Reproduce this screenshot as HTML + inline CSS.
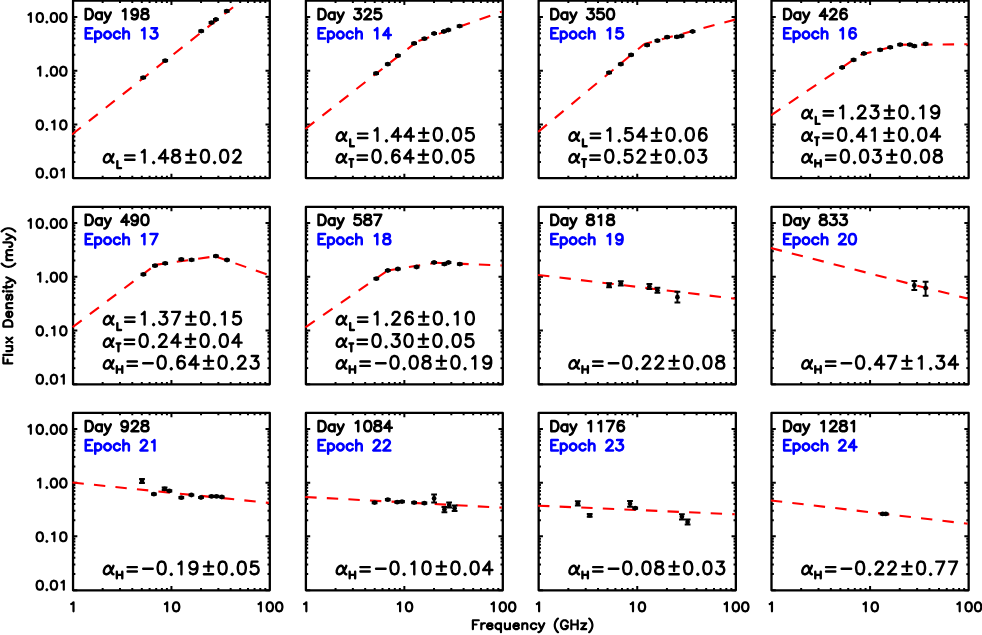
<!DOCTYPE html>
<html><head><meta charset="utf-8"><title>Flux Density vs Frequency</title>
<style>
html,body{margin:0;padding:0;background:#fff;}
body{width:982px;height:635px;overflow:hidden;font-family:"Liberation Sans",sans-serif;}
svg{display:block;}
svg text{font-family:"Liberation Sans",sans-serif;fill:#000;fill-opacity:0;stroke:none;}
</style></head><body>
<svg width="982" height="635" viewBox="0 0 982 635">
<defs><clipPath id="c0"><rect x="71.9" y="-0.55" width="196.9" height="179.8"/></clipPath><clipPath id="c1"><rect x="304.75" y="-0.55" width="197.05" height="179.8"/></clipPath><clipPath id="c2"><rect x="537.5" y="-0.55" width="197.35" height="179.8"/></clipPath><clipPath id="c3"><rect x="770.35" y="-0.55" width="197.3" height="179.8"/></clipPath><clipPath id="c4"><rect x="71.9" y="205.75" width="196.9" height="179.7"/></clipPath><clipPath id="c5"><rect x="304.75" y="205.75" width="197.05" height="179.7"/></clipPath><clipPath id="c6"><rect x="537.5" y="205.75" width="197.35" height="179.7"/></clipPath><clipPath id="c7"><rect x="770.35" y="205.75" width="197.3" height="179.7"/></clipPath><clipPath id="c8"><rect x="71.9" y="411.75" width="196.9" height="179.7"/></clipPath><clipPath id="c9"><rect x="304.75" y="411.75" width="197.05" height="179.7"/></clipPath><clipPath id="c10"><rect x="537.5" y="411.75" width="197.35" height="179.7"/></clipPath><clipPath id="c11"><rect x="770.35" y="411.75" width="197.3" height="179.7"/></clipPath></defs>
<rect width="982" height="635" fill="#fff"/>
<g fill="none" stroke-linecap="round" stroke-linejoin="round">
<path d="M73.05 17.1h4.3M269.8 17.1h-4.3M73.05 70.8h4.3M269.8 70.8h-4.3M73.05 124.5h4.3M269.8 124.5h-4.3M73.05 178.1h4.3M269.8 178.1h-4.3M73.05 54.63h2.3M269.8 54.63h-2.3M73.05 45.18h2.3M269.8 45.18h-2.3M73.05 38.47h2.3M269.8 38.47h-2.3M73.05 33.27h2.3M269.8 33.27h-2.3M73.05 29.01h2.3M269.8 29.01h-2.3M73.05 25.42h2.3M269.8 25.42h-2.3M73.05 22.3h2.3M269.8 22.3h-2.3M73.05 19.56h2.3M269.8 19.56h-2.3M73.05 108.33h2.3M269.8 108.33h-2.3M73.05 98.88h2.3M269.8 98.88h-2.3M73.05 92.17h2.3M269.8 92.17h-2.3M73.05 86.97h2.3M269.8 86.97h-2.3M73.05 82.71h2.3M269.8 82.71h-2.3M73.05 79.12h2.3M269.8 79.12h-2.3M73.05 76h2.3M269.8 76h-2.3M73.05 73.26h2.3M269.8 73.26h-2.3M73.05 162.03h2.3M269.8 162.03h-2.3M73.05 152.58h2.3M269.8 152.58h-2.3M73.05 145.87h2.3M269.8 145.87h-2.3M73.05 140.67h2.3M269.8 140.67h-2.3M73.05 136.41h2.3M269.8 136.41h-2.3M73.05 132.82h2.3M269.8 132.82h-2.3M73.05 129.7h2.3M269.8 129.7h-2.3M73.05 126.96h2.3M269.8 126.96h-2.3M171.43 0.6v4.3M171.43 178.1v-4.3M102.66 0.6v2.3M102.66 178.1v-2.3M119.99 0.6v2.3M119.99 178.1v-2.3M132.28 0.6v2.3M132.28 178.1v-2.3M141.81 0.6v2.3M141.81 178.1v-2.3M149.6 0.6v2.3M149.6 178.1v-2.3M156.19 0.6v2.3M156.19 178.1v-2.3M161.89 0.6v2.3M161.89 178.1v-2.3M166.92 0.6v2.3M166.92 178.1v-2.3M201.04 0.6v2.3M201.04 178.1v-2.3M218.36 0.6v2.3M218.36 178.1v-2.3M230.65 0.6v2.3M230.65 178.1v-2.3M240.19 0.6v2.3M240.19 178.1v-2.3M247.98 0.6v2.3M247.98 178.1v-2.3M254.56 0.6v2.3M254.56 178.1v-2.3M260.27 0.6v2.3M260.27 178.1v-2.3M265.3 0.6v2.3M265.3 178.1v-2.3" stroke="#000" stroke-width="2.0" stroke-linecap="butt"/>
<rect x="73.05" y="0.6" width="196.75" height="177.5" stroke="#000" stroke-width="2.3" stroke-linejoin="round"/>
<g clip-path="url(#c0)">
<line x1="71.9" y1="134.51" x2="233.1" y2="7.2" stroke="#f00" stroke-width="2.1" stroke-dasharray="11.4 10.2" stroke-dashoffset="0.03" stroke-linecap="butt"/>
</g>
<path d="M143.2 77V78.2M140.3 77H146.1M140.3 78.2H146.1M165.2 60.1V61.3M162.3 60.1H168.1M162.3 61.3H168.1M201.2 30.5V31.7M198.3 30.5H204.1M198.3 31.7H204.1M211.5 22V23.2M208.6 22H214.4M208.6 23.2H214.4M215.9 18.9V20.1M213 18.9H218.8M213 20.1H218.8M226.8 10.5V11.7M223.9 10.5H229.7M223.9 11.7H229.7" stroke="#000" stroke-width="2.0" stroke-linecap="butt"/>
<g fill="#000" stroke="none"><circle cx="143.2" cy="77.6" r="2.4"/><circle cx="165.2" cy="60.7" r="2.4"/><circle cx="201.2" cy="31.1" r="2.4"/><circle cx="211.5" cy="22.6" r="2.4"/><circle cx="215.9" cy="19.5" r="2.4"/><circle cx="226.8" cy="11.1" r="2.4"/></g>
<path d="M85.71 9.01L85.71 19.3M85.71 9.01L89.22 9.01L90.73 9.5L91.73 10.48L92.23 11.46L92.74 12.93L92.74 15.38L92.23 16.85L91.73 17.83L90.73 18.81L89.22 19.3L85.71 19.3M101.77 12.44L101.77 19.3M101.77 13.91L100.77 12.93L99.76 12.44L98.26 12.44L97.25 12.93L96.25 13.91L95.75 15.38L95.75 16.36L96.25 17.83L97.25 18.81L98.26 19.3L99.76 19.3L100.77 18.81L101.77 17.83M104.78 12.44L107.8 19.3M110.81 12.44L107.8 19.3L106.79 21.26L105.79 22.24L104.78 22.73L104.28 22.73M122.86 10.97L123.86 10.48L125.37 9.01L125.37 19.3M137.92 12.44L137.41 13.91L136.41 14.89L134.9 15.38L134.4 15.38L132.9 14.89L131.89 13.91L131.39 12.44L131.39 11.95L131.89 10.48L132.9 9.5L134.4 9.01L134.9 9.01L136.41 9.5L137.41 10.48L137.92 12.44L137.92 14.89L137.41 17.34L136.41 18.81L134.9 19.3L133.9 19.3L132.39 18.81L131.89 17.83M143.94 9.01L142.43 9.5L141.93 10.48L141.93 11.46L142.43 12.44L143.44 12.93L145.45 13.42L146.95 13.91L147.96 14.89L148.46 15.87L148.46 17.34L147.96 18.32L147.45 18.81L145.95 19.3L143.94 19.3L142.43 18.81L141.93 18.32L141.43 17.34L141.43 15.87L141.93 14.89L142.94 13.91L144.44 13.42L146.45 12.93L147.45 12.44L147.96 11.46L147.96 10.48L147.45 9.5L145.95 9.01L143.94 9.01" stroke="#000" stroke-width="2.5"/>
<path d="M85.71 28.16L85.71 38.45M85.71 28.16L92.23 28.16M85.71 33.06L89.72 33.06M85.71 38.45L92.23 38.45M95.25 31.59L95.25 41.88M95.25 33.06L96.25 32.08L97.25 31.59L98.76 31.59L99.76 32.08L100.77 33.06L101.27 34.53L101.27 35.51L100.77 36.98L99.76 37.96L98.76 38.45L97.25 38.45L96.25 37.96L95.25 36.98M106.79 31.59L105.79 32.08L104.78 33.06L104.28 34.53L104.28 35.51L104.78 36.98L105.79 37.96L106.79 38.45L108.3 38.45L109.3 37.96L110.31 36.98L110.81 35.51L110.81 34.53L110.31 33.06L109.3 32.08L108.3 31.59L106.79 31.59M119.84 33.06L118.84 32.08L117.84 31.59L116.33 31.59L115.33 32.08L114.32 33.06L113.82 34.53L113.82 35.51L114.32 36.98L115.33 37.96L116.33 38.45L117.84 38.45L118.84 37.96L119.84 36.98M123.36 28.16L123.36 38.45M123.36 33.55L124.86 32.08L125.87 31.59L127.37 31.59L128.38 32.08L128.88 33.55L128.88 38.45M141.93 30.12L142.94 29.63L144.44 28.16L144.44 38.45M151.47 28.16L156.99 28.16L153.98 32.08L155.49 32.08L156.49 32.57L156.99 33.06L157.49 34.53L157.49 35.51L156.99 36.98L155.99 37.96L154.48 38.45L152.98 38.45L151.47 37.96L150.97 37.47L150.47 36.49" stroke="#00f" stroke-width="2.5"/>
<path d="M107.71 154.1L106.43 154.7L105.15 155.9L104.51 157.1L103.87 158.9L103.87 160.7L104.51 161.9L105.79 162.5L107.07 162.5L108.35 161.9L110.27 160.1L111.55 158.3L112.83 155.9L113.47 154.1M107.71 154.1L108.99 154.1L109.63 154.7L110.27 155.9L111.55 160.7L112.19 161.9L112.83 162.5L113.47 162.5M125.16 155.42L134.5 155.42M125.16 159.74L134.5 159.74M141.74 152.3L142.89 151.7L144.61 149.9L144.61 162.5M153.64 162.08L153.12 162.62L153.64 163.16L154.16 162.62L153.64 162.08M165.1 149.9L158.9 158.3L168.2 158.3M165.1 149.9L165.1 162.5M174.89 149.9L173.16 150.5L172.59 151.7L172.59 152.9L173.16 154.1L174.31 154.7L176.61 155.3L178.34 155.9L179.49 157.1L180.06 158.3L180.06 160.1L179.49 161.3L178.91 161.9L177.19 162.5L174.89 162.5L173.16 161.9L172.59 161.3L172.01 160.1L172.01 158.3L172.59 157.1L173.74 155.9L175.46 155.3L177.76 154.7L178.91 154.1L179.49 152.9L179.49 151.7L178.91 150.5L177.19 149.9L174.89 149.9M190.89 149.9L190.89 159.38M186.29 154.7L195.49 154.7M186.29 162.5L195.49 162.5M204.39 149.9L202.67 150.5L201.52 152.3L200.94 155.3L200.94 157.1L201.52 160.1L202.67 161.9L204.39 162.5L205.54 162.5L207.27 161.9L208.42 160.1L208.99 157.1L208.99 155.3L208.42 152.3L207.27 150.5L205.54 149.9L204.39 149.9M214.57 162.08L214.05 162.62L214.57 163.16L215.08 162.62L214.57 162.08M223.59 149.9L221.87 150.5L220.72 152.3L220.14 155.3L220.14 157.1L220.72 160.1L221.87 161.9L223.59 162.5L224.74 162.5L226.47 161.9L227.62 160.1L228.19 157.1L228.19 155.3L227.62 152.3L226.47 150.5L224.74 149.9L223.59 149.9M233.52 152.9L233.52 152.3L234.09 151.1L234.67 150.5L235.82 149.9L238.12 149.9L239.27 150.5L239.84 151.1L240.42 152.3L240.42 153.5L239.84 154.7L238.69 156.5L232.94 162.5L240.99 162.5" stroke="#000" stroke-width="2.4"/>
<path d="M117.33 161.17L117.33 168.1M117.33 168.1L121.05 168.1" stroke="#000" stroke-width="2.4"/>
<path d="M28.55 14.76L29.46 14.33L30.82 13.05L30.82 22M39.34 13.05L37.97 13.48L37.06 14.76L36.6 16.89L36.6 18.17L37.06 20.3L37.97 21.57L39.34 22L40.24 22L41.61 21.57L42.52 20.3L42.98 18.17L42.98 16.89L42.52 14.76L41.61 13.48L40.24 13.05L39.34 13.05M46.85 21.7L46.45 22.09L46.85 22.47L47.26 22.09L46.85 21.7M53.47 13.05L52.1 13.48L51.19 14.76L50.73 16.89L50.73 18.17L51.19 20.3L52.1 21.57L53.47 22L54.38 22L55.74 21.57L56.65 20.3L57.11 18.17L57.11 16.89L56.65 14.76L55.74 13.48L54.38 13.05L53.47 13.05M62.89 13.05L61.52 13.48L60.61 14.76L60.16 16.89L60.16 18.17L60.61 20.3L61.52 21.57L62.89 22L63.8 22L65.16 21.57L66.07 20.3L66.53 18.17L66.53 16.89L66.07 14.76L65.16 13.48L63.8 13.05L62.89 13.05" stroke="#000" stroke-width="2.2"/>
<path d="M37.97 68.46L38.88 68.03L40.24 66.75L40.24 75.7M46.85 75.4L46.45 75.79L46.85 76.17L47.26 75.79L46.85 75.4M53.47 66.75L52.1 67.18L51.19 68.46L50.73 70.59L50.73 71.87L51.19 74L52.1 75.27L53.47 75.7L54.38 75.7L55.74 75.27L56.65 74L57.11 71.87L57.11 70.59L56.65 68.46L55.74 67.18L54.38 66.75L53.47 66.75M62.89 66.75L61.52 67.18L60.61 68.46L60.16 70.59L60.16 71.87L60.61 74L61.52 75.27L62.89 75.7L63.8 75.7L65.16 75.27L66.07 74L66.53 71.87L66.53 70.59L66.07 68.46L65.16 67.18L63.8 66.75L62.89 66.75" stroke="#000" stroke-width="2.2"/>
<path d="M39.34 120.45L37.97 120.88L37.06 122.16L36.6 124.29L36.6 125.57L37.06 127.7L37.97 128.97L39.34 129.4L40.24 129.4L41.61 128.97L42.52 127.7L42.98 125.57L42.98 124.29L42.52 122.16L41.61 120.88L40.24 120.45L39.34 120.45M46.85 129.1L46.45 129.49L46.85 129.87L47.26 129.49L46.85 129.1M52.1 122.16L53.01 121.73L54.38 120.45L54.38 129.4M62.89 120.45L61.52 120.88L60.61 122.16L60.16 124.29L60.16 125.57L60.61 127.7L61.52 128.97L62.89 129.4L63.8 129.4L65.16 128.97L66.07 127.7L66.53 125.57L66.53 124.29L66.07 122.16L65.16 120.88L63.8 120.45L62.89 120.45" stroke="#000" stroke-width="2.2"/>
<path d="M39.34 168.55L37.97 168.98L37.06 170.26L36.6 172.39L36.6 173.67L37.06 175.8L37.97 177.07L39.34 177.5L40.24 177.5L41.61 177.07L42.52 175.8L42.98 173.67L42.98 172.39L42.52 170.26L41.61 168.98L40.24 168.55L39.34 168.55M46.85 177.2L46.45 177.59L46.85 177.97L47.26 177.59L46.85 177.2M53.47 168.55L52.1 168.98L51.19 170.26L50.73 172.39L50.73 173.67L51.19 175.8L52.1 177.07L53.47 177.5L54.38 177.5L55.74 177.07L56.65 175.8L57.11 173.67L57.11 172.39L56.65 170.26L55.74 168.98L54.38 168.55L53.47 168.55M61.52 170.26L62.43 169.83L63.8 168.55L63.8 177.5" stroke="#000" stroke-width="2.2"/>
<path d="M305.9 17.1h4.3M502.8 17.1h-4.3M305.9 70.8h4.3M502.8 70.8h-4.3M305.9 124.5h4.3M502.8 124.5h-4.3M305.9 178.1h4.3M502.8 178.1h-4.3M305.9 54.63h2.3M502.8 54.63h-2.3M305.9 45.18h2.3M502.8 45.18h-2.3M305.9 38.47h2.3M502.8 38.47h-2.3M305.9 33.27h2.3M502.8 33.27h-2.3M305.9 29.01h2.3M502.8 29.01h-2.3M305.9 25.42h2.3M502.8 25.42h-2.3M305.9 22.3h2.3M502.8 22.3h-2.3M305.9 19.56h2.3M502.8 19.56h-2.3M305.9 108.33h2.3M502.8 108.33h-2.3M305.9 98.88h2.3M502.8 98.88h-2.3M305.9 92.17h2.3M502.8 92.17h-2.3M305.9 86.97h2.3M502.8 86.97h-2.3M305.9 82.71h2.3M502.8 82.71h-2.3M305.9 79.12h2.3M502.8 79.12h-2.3M305.9 76h2.3M502.8 76h-2.3M305.9 73.26h2.3M502.8 73.26h-2.3M305.9 162.03h2.3M502.8 162.03h-2.3M305.9 152.58h2.3M502.8 152.58h-2.3M305.9 145.87h2.3M502.8 145.87h-2.3M305.9 140.67h2.3M502.8 140.67h-2.3M305.9 136.41h2.3M502.8 136.41h-2.3M305.9 132.82h2.3M502.8 132.82h-2.3M305.9 129.7h2.3M502.8 129.7h-2.3M305.9 126.96h2.3M502.8 126.96h-2.3M404.35 0.6v4.3M404.35 178.1v-4.3M335.54 0.6v2.3M335.54 178.1v-2.3M352.87 0.6v2.3M352.87 178.1v-2.3M365.17 0.6v2.3M365.17 178.1v-2.3M374.71 0.6v2.3M374.71 178.1v-2.3M382.51 0.6v2.3M382.51 178.1v-2.3M389.1 0.6v2.3M389.1 178.1v-2.3M394.81 0.6v2.3M394.81 178.1v-2.3M399.85 0.6v2.3M399.85 178.1v-2.3M433.99 0.6v2.3M433.99 178.1v-2.3M451.32 0.6v2.3M451.32 178.1v-2.3M463.62 0.6v2.3M463.62 178.1v-2.3M473.16 0.6v2.3M473.16 178.1v-2.3M480.96 0.6v2.3M480.96 178.1v-2.3M487.55 0.6v2.3M487.55 178.1v-2.3M493.26 0.6v2.3M493.26 178.1v-2.3M498.3 0.6v2.3M498.3 178.1v-2.3" stroke="#000" stroke-width="2.0" stroke-linecap="butt"/>
<rect x="305.9" y="0.6" width="196.9" height="177.5" stroke="#000" stroke-width="2.3" stroke-linejoin="round"/>
<g clip-path="url(#c1)">
<line x1="304.7" y1="129.5" x2="417.2" y2="41.5" stroke="#f00" stroke-width="2.1" stroke-dasharray="11.4 10.2" stroke-dashoffset="-0.86" stroke-linecap="butt"/>
<line x1="417.2" y1="41.5" x2="502.55" y2="11.4" stroke="#f00" stroke-width="2.1" stroke-dasharray="11.4 10.2" stroke-dashoffset="-1.3" stroke-linecap="butt"/>
</g>
<path d="M376.1 72.8V74M373.2 72.8H379M373.2 74H379M387.8 63.6V64.8M384.9 63.6H390.7M384.9 64.8H390.7M397.9 55.1V56.3M395 55.1H400.8M395 56.3H400.8M414.1 42.8V44M411.2 42.8H417M411.2 44H417M424.4 38.1V39.3M421.5 38.1H427.3M421.5 39.3H427.3M434.1 32.9V34.1M431.2 32.9H437M431.2 34.1H437M443.9 30.9V32.1M441 30.9H446.8M441 32.1H446.8M448.3 29.4V30.6M445.4 29.4H451.2M445.4 30.6H451.2M459.6 25.5V26.7M456.7 25.5H462.5M456.7 26.7H462.5" stroke="#000" stroke-width="2.0" stroke-linecap="butt"/>
<g fill="#000" stroke="none"><circle cx="376.1" cy="73.4" r="2.4"/><circle cx="387.8" cy="64.2" r="2.4"/><circle cx="397.9" cy="55.7" r="2.4"/><circle cx="414.1" cy="43.4" r="2.4"/><circle cx="424.4" cy="38.7" r="2.4"/><circle cx="434.1" cy="33.5" r="2.4"/><circle cx="443.9" cy="31.5" r="2.4"/><circle cx="448.3" cy="30" r="2.4"/><circle cx="459.6" cy="26.1" r="2.4"/></g>
<path d="M318.56 9.01L318.56 19.3M318.56 9.01L322.07 9.01L323.58 9.5L324.58 10.48L325.08 11.46L325.59 12.93L325.59 15.38L325.08 16.85L324.58 17.83L323.58 18.81L322.07 19.3L318.56 19.3M334.62 12.44L334.62 19.3M334.62 13.91L333.62 12.93L332.61 12.44L331.11 12.44L330.1 12.93L329.1 13.91L328.6 15.38L328.6 16.36L329.1 17.83L330.1 18.81L331.11 19.3L332.61 19.3L333.62 18.81L334.62 17.83M337.63 12.44L340.65 19.3M343.66 12.44L340.65 19.3L339.64 21.26L338.64 22.24L337.63 22.73L337.13 22.73M355.2 9.01L360.73 9.01L357.71 12.93L359.22 12.93L360.22 13.42L360.73 13.91L361.23 15.38L361.23 16.36L360.73 17.83L359.72 18.81L358.22 19.3L356.71 19.3L355.2 18.81L354.7 18.32L354.2 17.34M364.74 11.46L364.74 10.97L365.24 9.99L365.75 9.5L366.75 9.01L368.76 9.01L369.76 9.5L370.26 9.99L370.77 10.97L370.77 11.95L370.26 12.93L369.26 14.4L364.24 19.3L371.27 19.3M380.3 9.01L375.28 9.01L374.78 13.42L375.28 12.93L376.79 12.44L378.3 12.44L379.8 12.93L380.81 13.91L381.31 15.38L381.31 16.36L380.81 17.83L379.8 18.81L378.3 19.3L376.79 19.3L375.28 18.81L374.78 18.32L374.28 17.34" stroke="#000" stroke-width="2.5"/>
<path d="M318.56 28.16L318.56 38.45M318.56 28.16L325.08 28.16M318.56 33.06L322.57 33.06M318.56 38.45L325.08 38.45M328.1 31.59L328.1 41.88M328.1 33.06L329.1 32.08L330.1 31.59L331.61 31.59L332.61 32.08L333.62 33.06L334.12 34.53L334.12 35.51L333.62 36.98L332.61 37.96L331.61 38.45L330.1 38.45L329.1 37.96L328.1 36.98M339.64 31.59L338.64 32.08L337.63 33.06L337.13 34.53L337.13 35.51L337.63 36.98L338.64 37.96L339.64 38.45L341.15 38.45L342.15 37.96L343.16 36.98L343.66 35.51L343.66 34.53L343.16 33.06L342.15 32.08L341.15 31.59L339.64 31.59M352.69 33.06L351.69 32.08L350.69 31.59L349.18 31.59L348.18 32.08L347.17 33.06L346.67 34.53L346.67 35.51L347.17 36.98L348.18 37.96L349.18 38.45L350.69 38.45L351.69 37.96L352.69 36.98M356.21 28.16L356.21 38.45M356.21 33.55L357.71 32.08L358.72 31.59L360.22 31.59L361.23 32.08L361.73 33.55L361.73 38.45M374.78 30.12L375.79 29.63L377.29 28.16L377.29 38.45M388.34 28.16L383.32 35.02L390.85 35.02M388.34 28.16L388.34 38.45" stroke="#00f" stroke-width="2.5"/>
<path d="M340.56 132.3L339.28 132.9L338 134.1L337.36 135.3L336.72 137.1L336.72 138.9L337.36 140.1L338.64 140.7L339.92 140.7L341.2 140.1L343.12 138.3L344.4 136.5L345.68 134.1L346.32 132.3M340.56 132.3L341.84 132.3L342.48 132.9L343.12 134.1L344.4 138.9L345.04 140.1L345.68 140.7L346.32 140.7M358.01 133.62L367.35 133.62M358.01 137.94L367.35 137.94M374.59 130.5L375.74 129.9L377.46 128.1L377.46 140.7M386.49 140.28L385.97 140.82L386.49 141.36L387.01 140.82L386.49 140.28M397.95 128.1L391.75 136.5L401.05 136.5M397.95 128.1L397.95 140.7M410.75 128.1L404.55 136.5L413.85 136.5M410.75 128.1L410.75 140.7M423.74 128.1L423.74 137.58M419.14 132.9L428.34 132.9M419.14 140.7L428.34 140.7M437.24 128.1L435.52 128.7L434.37 130.5L433.79 133.5L433.79 135.3L434.37 138.3L435.52 140.1L437.24 140.7L438.39 140.7L440.12 140.1L441.27 138.3L441.84 135.3L441.84 133.5L441.27 130.5L440.12 128.7L438.39 128.1L437.24 128.1M447.42 140.28L446.9 140.82L447.42 141.36L447.93 140.82L447.42 140.28M456.44 128.1L454.72 128.7L453.57 130.5L452.99 133.5L452.99 135.3L453.57 138.3L454.72 140.1L456.44 140.7L457.59 140.7L459.32 140.1L460.47 138.3L461.04 135.3L461.04 133.5L460.47 130.5L459.32 128.7L457.59 128.1L456.44 128.1M472.69 128.1L466.94 128.1L466.37 133.5L466.94 132.9L468.67 132.3L470.39 132.3L472.12 132.9L473.27 134.1L473.84 135.9L473.84 137.1L473.27 138.9L472.12 140.1L470.39 140.7L468.67 140.7L466.94 140.1L466.37 139.5L465.79 138.3" stroke="#000" stroke-width="2.4"/>
<path d="M350.18 139.37L350.18 146.3M350.18 146.3L353.9 146.3" stroke="#000" stroke-width="2.4"/>
<path d="M340.56 154.1L339.28 154.7L338 155.9L337.36 157.1L336.72 158.9L336.72 160.7L337.36 161.9L338.64 162.5L339.92 162.5L341.2 161.9L343.12 160.1L344.4 158.3L345.68 155.9L346.32 154.1M340.56 154.1L341.84 154.1L342.48 154.7L343.12 155.9L344.4 160.7L345.04 161.9L345.68 162.5L346.32 162.5M357.65 155.42L366.99 155.42M357.65 159.74L366.99 159.74M375.95 149.9L374.23 150.5L373.08 152.3L372.5 155.3L372.5 157.1L373.08 160.1L374.23 161.9L375.95 162.5L377.1 162.5L378.83 161.9L379.98 160.1L380.55 157.1L380.55 155.3L379.98 152.3L378.83 150.5L377.1 149.9L375.95 149.9M386.13 162.08L385.61 162.62L386.13 163.16L386.65 162.62L386.13 162.08M399.18 151.7L398.6 150.5L396.88 149.9L395.73 149.9L394 150.5L392.85 152.3L392.28 155.3L392.28 158.3L392.85 160.7L394 161.9L395.73 162.5L396.3 162.5L398.03 161.9L399.18 160.7L399.75 158.9L399.75 158.3L399.18 156.5L398.03 155.3L396.3 154.7L395.73 154.7L394 155.3L392.85 156.5L392.28 158.3M410.39 149.9L404.19 158.3L413.49 158.3M410.39 149.9L410.39 162.5M423.38 149.9L423.38 159.38M418.78 154.7L427.98 154.7M418.78 162.5L427.98 162.5M436.88 149.9L435.16 150.5L434.01 152.3L433.43 155.3L433.43 157.1L434.01 160.1L435.16 161.9L436.88 162.5L438.03 162.5L439.76 161.9L440.91 160.1L441.48 157.1L441.48 155.3L440.91 152.3L439.76 150.5L438.03 149.9L436.88 149.9M447.06 162.08L446.54 162.62L447.06 163.16L447.57 162.62L447.06 162.08M456.08 149.9L454.36 150.5L453.21 152.3L452.63 155.3L452.63 157.1L453.21 160.1L454.36 161.9L456.08 162.5L457.23 162.5L458.96 161.9L460.11 160.1L460.68 157.1L460.68 155.3L460.11 152.3L458.96 150.5L457.23 149.9L456.08 149.9M472.33 149.9L466.58 149.9L466.01 155.3L466.58 154.7L468.31 154.1L470.03 154.1L471.76 154.7L472.91 155.9L473.48 157.7L473.48 158.9L472.91 160.7L471.76 161.9L470.03 162.5L468.31 162.5L466.58 161.9L466.01 161.3L465.43 160.1" stroke="#000" stroke-width="2.4"/>
<path d="M351.32 159.17L351.32 166.9M349.5 159.17L353.14 159.17" stroke="#000" stroke-width="2.4"/>
<path d="M538.65 17.1h4.3M735.85 17.1h-4.3M538.65 70.8h4.3M735.85 70.8h-4.3M538.65 124.5h4.3M735.85 124.5h-4.3M538.65 178.1h4.3M735.85 178.1h-4.3M538.65 54.63h2.3M735.85 54.63h-2.3M538.65 45.18h2.3M735.85 45.18h-2.3M538.65 38.47h2.3M735.85 38.47h-2.3M538.65 33.27h2.3M735.85 33.27h-2.3M538.65 29.01h2.3M735.85 29.01h-2.3M538.65 25.42h2.3M735.85 25.42h-2.3M538.65 22.3h2.3M735.85 22.3h-2.3M538.65 19.56h2.3M735.85 19.56h-2.3M538.65 108.33h2.3M735.85 108.33h-2.3M538.65 98.88h2.3M735.85 98.88h-2.3M538.65 92.17h2.3M735.85 92.17h-2.3M538.65 86.97h2.3M735.85 86.97h-2.3M538.65 82.71h2.3M735.85 82.71h-2.3M538.65 79.12h2.3M735.85 79.12h-2.3M538.65 76h2.3M735.85 76h-2.3M538.65 73.26h2.3M735.85 73.26h-2.3M538.65 162.03h2.3M735.85 162.03h-2.3M538.65 152.58h2.3M735.85 152.58h-2.3M538.65 145.87h2.3M735.85 145.87h-2.3M538.65 140.67h2.3M735.85 140.67h-2.3M538.65 136.41h2.3M735.85 136.41h-2.3M538.65 132.82h2.3M735.85 132.82h-2.3M538.65 129.7h2.3M735.85 129.7h-2.3M538.65 126.96h2.3M735.85 126.96h-2.3M637.25 0.6v4.3M637.25 178.1v-4.3M568.33 0.6v2.3M568.33 178.1v-2.3M585.69 0.6v2.3M585.69 178.1v-2.3M598.01 0.6v2.3M598.01 178.1v-2.3M607.57 0.6v2.3M607.57 178.1v-2.3M615.38 0.6v2.3M615.38 178.1v-2.3M621.98 0.6v2.3M621.98 178.1v-2.3M627.69 0.6v2.3M627.69 178.1v-2.3M632.74 0.6v2.3M632.74 178.1v-2.3M666.93 0.6v2.3M666.93 178.1v-2.3M684.29 0.6v2.3M684.29 178.1v-2.3M696.61 0.6v2.3M696.61 178.1v-2.3M706.17 0.6v2.3M706.17 178.1v-2.3M713.98 0.6v2.3M713.98 178.1v-2.3M720.58 0.6v2.3M720.58 178.1v-2.3M726.29 0.6v2.3M726.29 178.1v-2.3M731.34 0.6v2.3M731.34 178.1v-2.3" stroke="#000" stroke-width="2.0" stroke-linecap="butt"/>
<rect x="538.65" y="0.6" width="197.2" height="177.5" stroke="#000" stroke-width="2.3" stroke-linejoin="round"/>
<g clip-path="url(#c2)">
<line x1="537.5" y1="132.45" x2="644.3" y2="44" stroke="#f00" stroke-width="2.1" stroke-dasharray="11.4 10.2" stroke-dashoffset="-0.89" stroke-linecap="butt"/>
<line x1="644.3" y1="44" x2="735.35" y2="19.5" stroke="#f00" stroke-width="2.1" stroke-dasharray="11.4 10.2" stroke-dashoffset="3.5" stroke-linecap="butt"/>
</g>
<path d="M609.1 72V73.2M606.2 72H612M606.2 73.2H612M620.8 63.6V64.8M617.9 63.6H623.7M617.9 64.8H623.7M631.1 54.3V55.5M628.2 54.3H634M628.2 55.5H634M647.1 44.5V45.7M644.2 44.5H650M644.2 45.7H650M657.4 40.1V41.3M654.5 40.1H660.3M654.5 41.3H660.3M667.1 36.6V37.8M664.2 36.6H670M664.2 37.8H670M676.9 36.2V37.4M674 36.2H679.8M674 37.4H679.8M681.5 35.4V36.6M678.6 35.4H684.4M678.6 36.6H684.4M692.6 30.9V32.1M689.7 30.9H695.5M689.7 32.1H695.5" stroke="#000" stroke-width="2.0" stroke-linecap="butt"/>
<g fill="#000" stroke="none"><circle cx="609.1" cy="72.6" r="2.4"/><circle cx="620.8" cy="64.2" r="2.4"/><circle cx="631.1" cy="54.9" r="2.4"/><circle cx="647.1" cy="45.1" r="2.4"/><circle cx="657.4" cy="40.7" r="2.4"/><circle cx="667.1" cy="37.2" r="2.4"/><circle cx="676.9" cy="36.8" r="2.4"/><circle cx="681.5" cy="36" r="2.4"/><circle cx="692.6" cy="31.5" r="2.4"/></g>
<path d="M551.31 9.01L551.31 19.3M551.31 9.01L554.82 9.01L556.33 9.5L557.33 10.48L557.83 11.46L558.34 12.93L558.34 15.38L557.83 16.85L557.33 17.83L556.33 18.81L554.82 19.3L551.31 19.3M567.37 12.44L567.37 19.3M567.37 13.91L566.37 12.93L565.36 12.44L563.86 12.44L562.85 12.93L561.85 13.91L561.35 15.38L561.35 16.36L561.85 17.83L562.85 18.81L563.86 19.3L565.36 19.3L566.37 18.81L567.37 17.83M570.38 12.44L573.4 19.3M576.41 12.44L573.4 19.3L572.39 21.26L571.39 22.24L570.38 22.73L569.88 22.73M587.95 9.01L593.48 9.01L590.46 12.93L591.97 12.93L592.97 13.42L593.48 13.91L593.98 15.38L593.98 16.36L593.48 17.83L592.47 18.81L590.97 19.3L589.46 19.3L587.95 18.81L587.45 18.32L586.95 17.34M603.01 9.01L597.99 9.01L597.49 13.42L597.99 12.93L599.5 12.44L601.01 12.44L602.51 12.93L603.52 13.91L604.02 15.38L604.02 16.36L603.52 17.83L602.51 18.81L601.01 19.3L599.5 19.3L597.99 18.81L597.49 18.32L596.99 17.34M610.04 9.01L608.54 9.5L607.53 10.97L607.03 13.42L607.03 14.89L607.53 17.34L608.54 18.81L610.04 19.3L611.05 19.3L612.55 18.81L613.56 17.34L614.06 14.89L614.06 13.42L613.56 10.97L612.55 9.5L611.05 9.01L610.04 9.01" stroke="#000" stroke-width="2.5"/>
<path d="M551.31 28.16L551.31 38.45M551.31 28.16L557.83 28.16M551.31 33.06L555.32 33.06M551.31 38.45L557.83 38.45M560.85 31.59L560.85 41.88M560.85 33.06L561.85 32.08L562.85 31.59L564.36 31.59L565.36 32.08L566.37 33.06L566.87 34.53L566.87 35.51L566.37 36.98L565.36 37.96L564.36 38.45L562.85 38.45L561.85 37.96L560.85 36.98M572.39 31.59L571.39 32.08L570.38 33.06L569.88 34.53L569.88 35.51L570.38 36.98L571.39 37.96L572.39 38.45L573.9 38.45L574.9 37.96L575.91 36.98L576.41 35.51L576.41 34.53L575.91 33.06L574.9 32.08L573.9 31.59L572.39 31.59M585.44 33.06L584.44 32.08L583.44 31.59L581.93 31.59L580.93 32.08L579.92 33.06L579.42 34.53L579.42 35.51L579.92 36.98L580.93 37.96L581.93 38.45L583.44 38.45L584.44 37.96L585.44 36.98M588.96 28.16L588.96 38.45M588.96 33.55L590.46 32.08L591.47 31.59L592.97 31.59L593.98 32.08L594.48 33.55L594.48 38.45M607.53 30.12L608.54 29.63L610.04 28.16L610.04 38.45M622.09 28.16L617.07 28.16L616.57 32.57L617.07 32.08L618.58 31.59L620.08 31.59L621.59 32.08L622.59 33.06L623.09 34.53L623.09 35.51L622.59 36.98L621.59 37.96L620.08 38.45L618.58 38.45L617.07 37.96L616.57 37.47L616.07 36.49" stroke="#00f" stroke-width="2.5"/>
<path d="M573.31 132.3L572.03 132.9L570.75 134.1L570.11 135.3L569.47 137.1L569.47 138.9L570.11 140.1L571.39 140.7L572.67 140.7L573.95 140.1L575.87 138.3L577.15 136.5L578.43 134.1L579.07 132.3M573.31 132.3L574.59 132.3L575.23 132.9L575.87 134.1L577.15 138.9L577.79 140.1L578.43 140.7L579.07 140.7M590.76 133.62L600.1 133.62M590.76 137.94L600.1 137.94M607.34 130.5L608.49 129.9L610.21 128.1L610.21 140.7M619.24 140.28L618.72 140.82L619.24 141.36L619.76 140.82L619.24 140.28M631.71 128.1L625.96 128.1L625.39 133.5L625.96 132.9L627.69 132.3L629.41 132.3L631.14 132.9L632.29 134.1L632.86 135.9L632.86 137.1L632.29 138.9L631.14 140.1L629.41 140.7L627.69 140.7L625.96 140.1L625.39 139.5L624.81 138.3M643.5 128.1L637.3 136.5L646.6 136.5M643.5 128.1L643.5 140.7M656.49 128.1L656.49 137.58M651.89 132.9L661.09 132.9M651.89 140.7L661.09 140.7M669.99 128.1L668.27 128.7L667.12 130.5L666.54 133.5L666.54 135.3L667.12 138.3L668.27 140.1L669.99 140.7L671.14 140.7L672.87 140.1L674.02 138.3L674.59 135.3L674.59 133.5L674.02 130.5L672.87 128.7L671.14 128.1L669.99 128.1M680.17 140.28L679.65 140.82L680.17 141.36L680.68 140.82L680.17 140.28M689.19 128.1L687.47 128.7L686.32 130.5L685.74 133.5L685.74 135.3L686.32 138.3L687.47 140.1L689.19 140.7L690.34 140.7L692.07 140.1L693.22 138.3L693.79 135.3L693.79 133.5L693.22 130.5L692.07 128.7L690.34 128.1L689.19 128.1M706.02 129.9L705.44 128.7L703.72 128.1L702.57 128.1L700.84 128.7L699.69 130.5L699.12 133.5L699.12 136.5L699.69 138.9L700.84 140.1L702.57 140.7L703.14 140.7L704.87 140.1L706.02 138.9L706.59 137.1L706.59 136.5L706.02 134.7L704.87 133.5L703.14 132.9L702.57 132.9L700.84 133.5L699.69 134.7L699.12 136.5" stroke="#000" stroke-width="2.4"/>
<path d="M582.93 139.37L582.93 146.3M582.93 146.3L586.65 146.3" stroke="#000" stroke-width="2.4"/>
<path d="M573.31 154.1L572.03 154.7L570.75 155.9L570.11 157.1L569.47 158.9L569.47 160.7L570.11 161.9L571.39 162.5L572.67 162.5L573.95 161.9L575.87 160.1L577.15 158.3L578.43 155.9L579.07 154.1M573.31 154.1L574.59 154.1L575.23 154.7L575.87 155.9L577.15 160.7L577.79 161.9L578.43 162.5L579.07 162.5M590.4 155.42L599.74 155.42M590.4 159.74L599.74 159.74M608.7 149.9L606.98 150.5L605.83 152.3L605.25 155.3L605.25 157.1L605.83 160.1L606.98 161.9L608.7 162.5L609.85 162.5L611.58 161.9L612.73 160.1L613.3 157.1L613.3 155.3L612.73 152.3L611.58 150.5L609.85 149.9L608.7 149.9M618.88 162.08L618.36 162.62L618.88 163.16L619.4 162.62L618.88 162.08M631.35 149.9L625.6 149.9L625.03 155.3L625.6 154.7L627.33 154.1L629.05 154.1L630.78 154.7L631.93 155.9L632.5 157.7L632.5 158.9L631.93 160.7L630.78 161.9L629.05 162.5L627.33 162.5L625.6 161.9L625.03 161.3L624.45 160.1M637.83 152.9L637.83 152.3L638.4 151.1L638.98 150.5L640.13 149.9L642.43 149.9L643.58 150.5L644.15 151.1L644.73 152.3L644.73 153.5L644.15 154.7L643 156.5L637.25 162.5L645.3 162.5M656.13 149.9L656.13 159.38M651.53 154.7L660.73 154.7M651.53 162.5L660.73 162.5M669.63 149.9L667.91 150.5L666.76 152.3L666.18 155.3L666.18 157.1L666.76 160.1L667.91 161.9L669.63 162.5L670.78 162.5L672.51 161.9L673.66 160.1L674.23 157.1L674.23 155.3L673.66 152.3L672.51 150.5L670.78 149.9L669.63 149.9M679.81 162.08L679.29 162.62L679.81 163.16L680.32 162.62L679.81 162.08M688.83 149.9L687.11 150.5L685.96 152.3L685.38 155.3L685.38 157.1L685.96 160.1L687.11 161.9L688.83 162.5L689.98 162.5L691.71 161.9L692.86 160.1L693.43 157.1L693.43 155.3L692.86 152.3L691.71 150.5L689.98 149.9L688.83 149.9M699.33 149.9L705.66 149.9L702.21 154.7L703.93 154.7L705.08 155.3L705.66 155.9L706.23 157.7L706.23 158.9L705.66 160.7L704.51 161.9L702.78 162.5L701.06 162.5L699.33 161.9L698.76 161.3L698.18 160.1" stroke="#000" stroke-width="2.4"/>
<path d="M584.07 159.17L584.07 166.9M582.25 159.17L585.89 159.17" stroke="#000" stroke-width="2.4"/>
<path d="M771.5 17.1h4.3M968.65 17.1h-4.3M771.5 70.8h4.3M968.65 70.8h-4.3M771.5 124.5h4.3M968.65 124.5h-4.3M771.5 178.1h4.3M968.65 178.1h-4.3M771.5 54.63h2.3M968.65 54.63h-2.3M771.5 45.18h2.3M968.65 45.18h-2.3M771.5 38.47h2.3M968.65 38.47h-2.3M771.5 33.27h2.3M968.65 33.27h-2.3M771.5 29.01h2.3M968.65 29.01h-2.3M771.5 25.42h2.3M968.65 25.42h-2.3M771.5 22.3h2.3M968.65 22.3h-2.3M771.5 19.56h2.3M968.65 19.56h-2.3M771.5 108.33h2.3M968.65 108.33h-2.3M771.5 98.88h2.3M968.65 98.88h-2.3M771.5 92.17h2.3M968.65 92.17h-2.3M771.5 86.97h2.3M968.65 86.97h-2.3M771.5 82.71h2.3M968.65 82.71h-2.3M771.5 79.12h2.3M968.65 79.12h-2.3M771.5 76h2.3M968.65 76h-2.3M771.5 73.26h2.3M968.65 73.26h-2.3M771.5 162.03h2.3M968.65 162.03h-2.3M771.5 152.58h2.3M968.65 152.58h-2.3M771.5 145.87h2.3M968.65 145.87h-2.3M771.5 140.67h2.3M968.65 140.67h-2.3M771.5 136.41h2.3M968.65 136.41h-2.3M771.5 132.82h2.3M968.65 132.82h-2.3M771.5 129.7h2.3M968.65 129.7h-2.3M771.5 126.96h2.3M968.65 126.96h-2.3M870.08 0.6v4.3M870.08 178.1v-4.3M801.17 0.6v2.3M801.17 178.1v-2.3M818.53 0.6v2.3M818.53 178.1v-2.3M830.85 0.6v2.3M830.85 178.1v-2.3M840.4 0.6v2.3M840.4 178.1v-2.3M848.21 0.6v2.3M848.21 178.1v-2.3M854.81 0.6v2.3M854.81 178.1v-2.3M860.52 0.6v2.3M860.52 178.1v-2.3M865.56 0.6v2.3M865.56 178.1v-2.3M899.75 0.6v2.3M899.75 178.1v-2.3M917.11 0.6v2.3M917.11 178.1v-2.3M929.42 0.6v2.3M929.42 178.1v-2.3M938.98 0.6v2.3M938.98 178.1v-2.3M946.78 0.6v2.3M946.78 178.1v-2.3M953.38 0.6v2.3M953.38 178.1v-2.3M959.1 0.6v2.3M959.1 178.1v-2.3M964.14 0.6v2.3M964.14 178.1v-2.3" stroke="#000" stroke-width="2.0" stroke-linecap="butt"/>
<rect x="771.5" y="0.6" width="197.15" height="177.5" stroke="#000" stroke-width="2.3" stroke-linejoin="round"/>
<g clip-path="url(#c3)">
<line x1="770.3" y1="115.77" x2="861.5" y2="54.4" stroke="#f00" stroke-width="2.1" stroke-dasharray="11.4 10.2" stroke-dashoffset="-0.79" stroke-linecap="butt"/>
<line x1="861.5" y1="54.4" x2="900.5" y2="44.7" stroke="#f00" stroke-width="2.1" stroke-dasharray="11.4 10.2" stroke-dashoffset="1.1" stroke-linecap="butt"/>
<line x1="900.5" y1="44.7" x2="968.15" y2="44.3" stroke="#f00" stroke-width="2.1" stroke-dasharray="11.4 10.2" stroke-dashoffset="1" stroke-linecap="butt"/>
</g>
<path d="M842.1 66.9V68.1M839.2 66.9H845M839.2 68.1H845M853.6 59.3V60.5M850.7 59.3H856.5M850.7 60.5H856.5M863.9 52.9V54.1M861 52.9H866.8M861 54.1H866.8M880.1 49.2V50.4M877.2 49.2H883M877.2 50.4H883M890.2 46.7V47.9M887.3 46.7H893.1M887.3 47.9H893.1M900.1 44V45.2M897.2 44H903M897.2 45.2H903M909.9 44V45.2M907 44H912.8M907 45.2H912.8M914.3 45.5V46.7M911.4 45.5H917.2M911.4 46.7H917.2M925.6 43.2V44.4M922.7 43.2H928.5M922.7 44.4H928.5" stroke="#000" stroke-width="2.0" stroke-linecap="butt"/>
<g fill="#000" stroke="none"><circle cx="842.1" cy="67.5" r="2.4"/><circle cx="853.6" cy="59.9" r="2.4"/><circle cx="863.9" cy="53.5" r="2.4"/><circle cx="880.1" cy="49.8" r="2.4"/><circle cx="890.2" cy="47.3" r="2.4"/><circle cx="900.1" cy="44.6" r="2.4"/><circle cx="909.9" cy="44.6" r="2.4"/><circle cx="914.3" cy="46.1" r="2.4"/><circle cx="925.6" cy="43.8" r="2.4"/></g>
<path d="M784.16 9.01L784.16 19.3M784.16 9.01L787.67 9.01L789.18 9.5L790.18 10.48L790.68 11.46L791.19 12.93L791.19 15.38L790.68 16.85L790.18 17.83L789.18 18.81L787.67 19.3L784.16 19.3M800.22 12.44L800.22 19.3M800.22 13.91L799.22 12.93L798.21 12.44L796.71 12.44L795.7 12.93L794.7 13.91L794.2 15.38L794.2 16.36L794.7 17.83L795.7 18.81L796.71 19.3L798.21 19.3L799.22 18.81L800.22 17.83M803.23 12.44L806.25 19.3M809.26 12.44L806.25 19.3L805.24 21.26L804.24 22.24L803.23 22.73L802.73 22.73M824.82 9.01L819.8 15.87L827.33 15.87M824.82 9.01L824.82 19.3M830.34 11.46L830.34 10.97L830.84 9.99L831.35 9.5L832.35 9.01L834.36 9.01L835.36 9.5L835.86 9.99L836.37 10.97L836.37 11.95L835.86 12.93L834.86 14.4L829.84 19.3L836.87 19.3M846.41 10.48L845.9 9.5L844.4 9.01L843.39 9.01L841.89 9.5L840.88 10.97L840.38 13.42L840.38 15.87L840.88 17.83L841.89 18.81L843.39 19.3L843.9 19.3L845.4 18.81L846.41 17.83L846.91 16.36L846.91 15.87L846.41 14.4L845.4 13.42L843.9 12.93L843.39 12.93L841.89 13.42L840.88 14.4L840.38 15.87" stroke="#000" stroke-width="2.5"/>
<path d="M784.16 28.16L784.16 38.45M784.16 28.16L790.68 28.16M784.16 33.06L788.17 33.06M784.16 38.45L790.68 38.45M793.7 31.59L793.7 41.88M793.7 33.06L794.7 32.08L795.7 31.59L797.21 31.59L798.21 32.08L799.22 33.06L799.72 34.53L799.72 35.51L799.22 36.98L798.21 37.96L797.21 38.45L795.7 38.45L794.7 37.96L793.7 36.98M805.24 31.59L804.24 32.08L803.23 33.06L802.73 34.53L802.73 35.51L803.23 36.98L804.24 37.96L805.24 38.45L806.75 38.45L807.75 37.96L808.76 36.98L809.26 35.51L809.26 34.53L808.76 33.06L807.75 32.08L806.75 31.59L805.24 31.59M818.29 33.06L817.29 32.08L816.29 31.59L814.78 31.59L813.78 32.08L812.77 33.06L812.27 34.53L812.27 35.51L812.77 36.98L813.78 37.96L814.78 38.45L816.29 38.45L817.29 37.96L818.29 36.98M821.81 28.16L821.81 38.45M821.81 33.55L823.31 32.08L824.32 31.59L825.82 31.59L826.83 32.08L827.33 33.55L827.33 38.45M840.38 30.12L841.39 29.63L842.89 28.16L842.89 38.45M855.44 29.63L854.94 28.65L853.43 28.16L852.43 28.16L850.92 28.65L849.92 30.12L849.42 32.57L849.42 35.02L849.92 36.98L850.92 37.96L852.43 38.45L852.93 38.45L854.44 37.96L855.44 36.98L855.94 35.51L855.94 35.02L855.44 33.55L854.44 32.57L852.93 32.08L852.43 32.08L850.92 32.57L849.92 33.55L849.42 35.02" stroke="#00f" stroke-width="2.5"/>
<path d="M806.16 109.9L804.88 110.5L803.6 111.7L802.96 112.9L802.32 114.7L802.32 116.5L802.96 117.7L804.24 118.3L805.52 118.3L806.8 117.7L808.72 115.9L810 114.1L811.28 111.7L811.92 109.9M806.16 109.9L807.44 109.9L808.08 110.5L808.72 111.7L810 116.5L810.64 117.7L811.28 118.3L811.92 118.3M823.61 111.22L832.95 111.22M823.61 115.54L832.95 115.54M840.19 108.1L841.34 107.5L843.06 105.7L843.06 118.3M852.09 117.88L851.57 118.42L852.09 118.96L852.61 118.42L852.09 117.88M858.24 108.7L858.24 108.1L858.81 106.9L859.39 106.3L860.54 105.7L862.84 105.7L863.99 106.3L864.56 106.9L865.14 108.1L865.14 109.3L864.56 110.5L863.41 112.3L857.66 118.3L865.71 118.3M871.61 105.7L877.94 105.7L874.49 110.5L876.21 110.5L877.36 111.1L877.94 111.7L878.51 113.5L878.51 114.7L877.94 116.5L876.79 117.7L875.06 118.3L873.34 118.3L871.61 117.7L871.04 117.1L870.46 115.9M889.34 105.7L889.34 115.18M884.74 110.5L893.94 110.5M884.74 118.3L893.94 118.3M902.84 105.7L901.12 106.3L899.97 108.1L899.39 111.1L899.39 112.9L899.97 115.9L901.12 117.7L902.84 118.3L903.99 118.3L905.72 117.7L906.87 115.9L907.44 112.9L907.44 111.1L906.87 108.1L905.72 106.3L903.99 105.7L902.84 105.7M913.02 117.88L912.5 118.42L913.02 118.96L913.53 118.42L913.02 117.88M920.32 108.1L921.47 107.5L923.19 105.7L923.19 118.3M939.14 109.9L938.52 111.7L937.28 112.9L935.42 113.5L934.8 113.5L932.94 112.9L931.7 111.7L931.08 109.9L931.08 109.3L931.7 107.5L932.94 106.3L934.8 105.7L935.42 105.7L937.28 106.3L938.52 107.5L939.14 109.9L939.14 112.9L938.52 115.9L937.28 117.7L935.42 118.3L934.18 118.3L932.32 117.7L931.7 116.5" stroke="#000" stroke-width="2.4"/>
<path d="M815.78 116.97L815.78 123.9M815.78 123.9L819.5 123.9" stroke="#000" stroke-width="2.4"/>
<path d="M806.16 132.3L804.88 132.9L803.6 134.1L802.96 135.3L802.32 137.1L802.32 138.9L802.96 140.1L804.24 140.7L805.52 140.7L806.8 140.1L808.72 138.3L810 136.5L811.28 134.1L811.92 132.3M806.16 132.3L807.44 132.3L808.08 132.9L808.72 134.1L810 138.9L810.64 140.1L811.28 140.7L811.92 140.7M823.25 133.62L832.59 133.62M823.25 137.94L832.59 137.94M841.55 128.1L839.83 128.7L838.68 130.5L838.1 133.5L838.1 135.3L838.68 138.3L839.83 140.1L841.55 140.7L842.7 140.7L844.43 140.1L845.58 138.3L846.15 135.3L846.15 133.5L845.58 130.5L844.43 128.7L842.7 128.1L841.55 128.1M851.73 140.28L851.21 140.82L851.73 141.36L852.25 140.82L851.73 140.28M863.19 128.1L856.99 136.5L866.29 136.5M863.19 128.1L863.19 140.7M871.83 130.5L872.98 129.9L874.7 128.1L874.7 140.7M888.98 128.1L888.98 137.58M884.38 132.9L893.58 132.9M884.38 140.7L893.58 140.7M902.48 128.1L900.76 128.7L899.61 130.5L899.03 133.5L899.03 135.3L899.61 138.3L900.76 140.1L902.48 140.7L903.63 140.7L905.36 140.1L906.51 138.3L907.08 135.3L907.08 133.5L906.51 130.5L905.36 128.7L903.63 128.1L902.48 128.1M912.66 140.28L912.14 140.82L912.66 141.36L913.17 140.82L912.66 140.28M921.68 128.1L919.96 128.7L918.81 130.5L918.23 133.5L918.23 135.3L918.81 138.3L919.96 140.1L921.68 140.7L922.83 140.7L924.56 140.1L925.71 138.3L926.28 135.3L926.28 133.5L925.71 130.5L924.56 128.7L922.83 128.1L921.68 128.1M936.92 128.1L930.72 136.5L940.02 136.5M936.92 128.1L936.92 140.7" stroke="#000" stroke-width="2.4"/>
<path d="M816.92 137.37L816.92 145.1M815.1 137.37L818.74 137.37" stroke="#000" stroke-width="2.4"/>
<path d="M806.16 154.1L804.88 154.7L803.6 155.9L802.96 157.1L802.32 158.9L802.32 160.7L802.96 161.9L804.24 162.5L805.52 162.5L806.8 161.9L808.72 160.1L810 158.3L811.28 155.9L811.92 154.1M806.16 154.1L807.44 154.1L808.08 154.7L808.72 155.9L810 160.7L810.64 161.9L811.28 162.5L811.92 162.5M826.01 155.42L835.35 155.42M826.01 159.74L835.35 159.74M844.31 149.9L842.59 150.5L841.44 152.3L840.86 155.3L840.86 157.1L841.44 160.1L842.59 161.9L844.31 162.5L845.46 162.5L847.19 161.9L848.34 160.1L848.91 157.1L848.91 155.3L848.34 152.3L847.19 150.5L845.46 149.9L844.31 149.9M854.49 162.08L853.97 162.62L854.49 163.16L855.01 162.62L854.49 162.08M863.51 149.9L861.79 150.5L860.64 152.3L860.06 155.3L860.06 157.1L860.64 160.1L861.79 161.9L863.51 162.5L864.66 162.5L866.39 161.9L867.54 160.1L868.11 157.1L868.11 155.3L867.54 152.3L866.39 150.5L864.66 149.9L863.51 149.9M874.01 149.9L880.34 149.9L876.89 154.7L878.61 154.7L879.76 155.3L880.34 155.9L880.91 157.7L880.91 158.9L880.34 160.7L879.19 161.9L877.46 162.5L875.74 162.5L874.01 161.9L873.44 161.3L872.86 160.1M891.74 149.9L891.74 159.38M887.14 154.7L896.34 154.7M887.14 162.5L896.34 162.5M905.24 149.9L903.52 150.5L902.37 152.3L901.79 155.3L901.79 157.1L902.37 160.1L903.52 161.9L905.24 162.5L906.39 162.5L908.12 161.9L909.27 160.1L909.84 157.1L909.84 155.3L909.27 152.3L908.12 150.5L906.39 149.9L905.24 149.9M915.42 162.08L914.9 162.62L915.42 163.16L915.93 162.62L915.42 162.08M924.44 149.9L922.72 150.5L921.57 152.3L920.99 155.3L920.99 157.1L921.57 160.1L922.72 161.9L924.44 162.5L925.59 162.5L927.32 161.9L928.47 160.1L929.04 157.1L929.04 155.3L928.47 152.3L927.32 150.5L925.59 149.9L924.44 149.9M936.67 149.9L934.94 150.5L934.37 151.7L934.37 152.9L934.94 154.1L936.09 154.7L938.39 155.3L940.12 155.9L941.27 157.1L941.84 158.3L941.84 160.1L941.27 161.3L940.69 161.9L938.97 162.5L936.67 162.5L934.94 161.9L934.37 161.3L933.79 160.1L933.79 158.3L934.37 157.1L935.52 155.9L937.24 155.3L939.54 154.7L940.69 154.1L941.27 152.9L941.27 151.7L940.69 150.5L938.97 149.9L936.67 149.9" stroke="#000" stroke-width="2.4"/>
<path d="M815.27 160.09L815.27 166.6M820.73 160.09L820.73 166.6M815.27 163.19L820.73 163.19" stroke="#000" stroke-width="2.4"/>
<path d="M73.05 223.05h4.3M269.8 223.05h-4.3M73.05 276.75h4.3M269.8 276.75h-4.3M73.05 330.45h4.3M269.8 330.45h-4.3M73.05 384.3h4.3M269.8 384.3h-4.3M73.05 260.58h2.3M269.8 260.58h-2.3M73.05 251.13h2.3M269.8 251.13h-2.3M73.05 244.42h2.3M269.8 244.42h-2.3M73.05 239.22h2.3M269.8 239.22h-2.3M73.05 234.96h2.3M269.8 234.96h-2.3M73.05 231.37h2.3M269.8 231.37h-2.3M73.05 228.25h2.3M269.8 228.25h-2.3M73.05 225.51h2.3M269.8 225.51h-2.3M73.05 314.28h2.3M269.8 314.28h-2.3M73.05 304.83h2.3M269.8 304.83h-2.3M73.05 298.12h2.3M269.8 298.12h-2.3M73.05 292.92h2.3M269.8 292.92h-2.3M73.05 288.66h2.3M269.8 288.66h-2.3M73.05 285.07h2.3M269.8 285.07h-2.3M73.05 281.95h2.3M269.8 281.95h-2.3M73.05 279.21h2.3M269.8 279.21h-2.3M73.05 367.98h2.3M269.8 367.98h-2.3M73.05 358.53h2.3M269.8 358.53h-2.3M73.05 351.82h2.3M269.8 351.82h-2.3M73.05 346.62h2.3M269.8 346.62h-2.3M73.05 342.36h2.3M269.8 342.36h-2.3M73.05 338.77h2.3M269.8 338.77h-2.3M73.05 335.65h2.3M269.8 335.65h-2.3M73.05 332.91h2.3M269.8 332.91h-2.3M171.43 206.9v4.3M171.43 384.3v-4.3M102.66 206.9v2.3M102.66 384.3v-2.3M119.99 206.9v2.3M119.99 384.3v-2.3M132.28 206.9v2.3M132.28 384.3v-2.3M141.81 206.9v2.3M141.81 384.3v-2.3M149.6 206.9v2.3M149.6 384.3v-2.3M156.19 206.9v2.3M156.19 384.3v-2.3M161.89 206.9v2.3M161.89 384.3v-2.3M166.92 206.9v2.3M166.92 384.3v-2.3M201.04 206.9v2.3M201.04 384.3v-2.3M218.36 206.9v2.3M218.36 384.3v-2.3M230.65 206.9v2.3M230.65 384.3v-2.3M240.19 206.9v2.3M240.19 384.3v-2.3M247.98 206.9v2.3M247.98 384.3v-2.3M254.56 206.9v2.3M254.56 384.3v-2.3M260.27 206.9v2.3M260.27 384.3v-2.3M265.3 206.9v2.3M265.3 384.3v-2.3" stroke="#000" stroke-width="2.0" stroke-linecap="butt"/>
<rect x="73.05" y="206.9" width="196.75" height="177.4" stroke="#000" stroke-width="2.3" stroke-linejoin="round"/>
<g clip-path="url(#c4)">
<line x1="71.9" y1="327.66" x2="155.4" y2="264.9" stroke="#f00" stroke-width="2.1" stroke-dasharray="11.4 10.2" stroke-dashoffset="-0.84" stroke-linecap="butt"/>
<line x1="155.4" y1="264.9" x2="215" y2="256.3" stroke="#f00" stroke-width="2.1" stroke-dasharray="11.4 10.2" stroke-dashoffset="0" stroke-linecap="butt"/>
<line x1="215" y1="256.3" x2="269.75" y2="275.3" stroke="#f00" stroke-width="2.1" stroke-dasharray="11.4 10.2" stroke-dashoffset="0" stroke-linecap="butt"/>
</g>
<path d="M143.4 273.8V275M140.5 273.8H146.3M140.5 275H146.3M155 265.1V266.3M152.1 265.1H157.9M152.1 266.3H157.9M165.2 262.7V263.9M162.3 262.7H168.1M162.3 263.9H168.1M181.3 258.8V260M178.4 258.8H184.2M178.4 260H184.2M191.6 259.2V260.4M188.7 259.2H194.5M188.7 260.4H194.5M215.9 255.5V256.7M213 255.5H218.8M213 256.7H218.8M227 259.4V260.6M224.1 259.4H229.9M224.1 260.6H229.9" stroke="#000" stroke-width="2.0" stroke-linecap="butt"/>
<g fill="#000" stroke="none"><circle cx="143.4" cy="274.4" r="2.4"/><circle cx="155" cy="265.7" r="2.4"/><circle cx="165.2" cy="263.3" r="2.4"/><circle cx="181.3" cy="259.4" r="2.4"/><circle cx="191.6" cy="259.8" r="2.4"/><circle cx="215.9" cy="256.1" r="2.4"/><circle cx="227" cy="260" r="2.4"/></g>
<path d="M85.71 214.81L85.71 225.1M85.71 214.81L89.22 214.81L90.73 215.3L91.73 216.28L92.23 217.26L92.74 218.73L92.74 221.18L92.23 222.65L91.73 223.63L90.73 224.61L89.22 225.1L85.71 225.1M101.77 218.24L101.77 225.1M101.77 219.71L100.77 218.73L99.76 218.24L98.26 218.24L97.25 218.73L96.25 219.71L95.75 221.18L95.75 222.16L96.25 223.63L97.25 224.61L98.26 225.1L99.76 225.1L100.77 224.61L101.77 223.63M104.78 218.24L107.8 225.1M110.81 218.24L107.8 225.1L106.79 227.06L105.79 228.04L104.78 228.53L104.28 228.53M126.37 214.81L121.35 221.67L128.88 221.67M126.37 214.81L126.37 225.1M137.92 218.24L137.41 219.71L136.41 220.69L134.9 221.18L134.4 221.18L132.9 220.69L131.89 219.71L131.39 218.24L131.39 217.75L131.89 216.28L132.9 215.3L134.4 214.81L134.9 214.81L136.41 215.3L137.41 216.28L137.92 218.24L137.92 220.69L137.41 223.14L136.41 224.61L134.9 225.1L133.9 225.1L132.39 224.61L131.89 223.63M144.44 214.81L142.94 215.3L141.93 216.77L141.43 219.22L141.43 220.69L141.93 223.14L142.94 224.61L144.44 225.1L145.45 225.1L146.95 224.61L147.96 223.14L148.46 220.69L148.46 219.22L147.96 216.77L146.95 215.3L145.45 214.81L144.44 214.81" stroke="#000" stroke-width="2.5"/>
<path d="M85.71 233.96L85.71 244.25M85.71 233.96L92.23 233.96M85.71 238.86L89.72 238.86M85.71 244.25L92.23 244.25M95.25 237.39L95.25 247.68M95.25 238.86L96.25 237.88L97.25 237.39L98.76 237.39L99.76 237.88L100.77 238.86L101.27 240.33L101.27 241.31L100.77 242.78L99.76 243.76L98.76 244.25L97.25 244.25L96.25 243.76L95.25 242.78M106.79 237.39L105.79 237.88L104.78 238.86L104.28 240.33L104.28 241.31L104.78 242.78L105.79 243.76L106.79 244.25L108.3 244.25L109.3 243.76L110.31 242.78L110.81 241.31L110.81 240.33L110.31 238.86L109.3 237.88L108.3 237.39L106.79 237.39M119.84 238.86L118.84 237.88L117.84 237.39L116.33 237.39L115.33 237.88L114.32 238.86L113.82 240.33L113.82 241.31L114.32 242.78L115.33 243.76L116.33 244.25L117.84 244.25L118.84 243.76L119.84 242.78M123.36 233.96L123.36 244.25M123.36 239.35L124.86 237.88L125.87 237.39L127.37 237.39L128.38 237.88L128.88 239.35L128.88 244.25M141.93 235.92L142.94 235.43L144.44 233.96L144.44 244.25M157.49 233.96L152.47 244.25M150.47 233.96L157.49 233.96" stroke="#00f" stroke-width="2.5"/>
<path d="M107.71 316.05L106.43 316.65L105.15 317.85L104.51 319.05L103.87 320.85L103.87 322.65L104.51 323.85L105.79 324.45L107.07 324.45L108.35 323.85L110.27 322.05L111.55 320.25L112.83 317.85L113.47 316.05M107.71 316.05L108.99 316.05L109.63 316.65L110.27 317.85L111.55 322.65L112.19 323.85L112.83 324.45L113.47 324.45M125.16 317.37L134.5 317.37M125.16 321.69L134.5 321.69M141.74 314.25L142.89 313.65L144.61 311.85L144.61 324.45M153.64 324.03L153.12 324.57L153.64 325.11L154.16 324.57L153.64 324.03M160.36 311.85L166.69 311.85L163.24 316.65L164.96 316.65L166.11 317.25L166.69 317.85L167.26 319.65L167.26 320.85L166.69 322.65L165.54 323.85L163.81 324.45L162.09 324.45L160.36 323.85L159.79 323.25L159.21 322.05M180.06 311.85L174.31 324.45M172.01 311.85L180.06 311.85M190.89 311.85L190.89 321.33M186.29 316.65L195.49 316.65M186.29 324.45L195.49 324.45M204.39 311.85L202.67 312.45L201.52 314.25L200.94 317.25L200.94 319.05L201.52 322.05L202.67 323.85L204.39 324.45L205.54 324.45L207.27 323.85L208.42 322.05L208.99 319.05L208.99 317.25L208.42 314.25L207.27 312.45L205.54 311.85L204.39 311.85M214.57 324.03L214.05 324.57L214.57 325.11L215.08 324.57L214.57 324.03M221.87 314.25L223.02 313.65L224.74 311.85L224.74 324.45M239.84 311.85L234.09 311.85L233.52 317.25L234.09 316.65L235.82 316.05L237.54 316.05L239.27 316.65L240.42 317.85L240.99 319.65L240.99 320.85L240.42 322.65L239.27 323.85L237.54 324.45L235.82 324.45L234.09 323.85L233.52 323.25L232.94 322.05" stroke="#000" stroke-width="2.4"/>
<path d="M117.33 323.12L117.33 330.05M117.33 330.05L121.05 330.05" stroke="#000" stroke-width="2.4"/>
<path d="M107.71 338.45L106.43 339.05L105.15 340.25L104.51 341.45L103.87 343.25L103.87 345.05L104.51 346.25L105.79 346.85L107.07 346.85L108.35 346.25L110.27 344.45L111.55 342.65L112.83 340.25L113.47 338.45M107.71 338.45L108.99 338.45L109.63 339.05L110.27 340.25L111.55 345.05L112.19 346.25L112.83 346.85L113.47 346.85M124.8 339.77L134.14 339.77M124.8 344.09L134.14 344.09M143.1 334.25L141.38 334.85L140.23 336.65L139.65 339.65L139.65 341.45L140.23 344.45L141.38 346.25L143.1 346.85L144.25 346.85L145.98 346.25L147.13 344.45L147.7 341.45L147.7 339.65L147.13 336.65L145.98 334.85L144.25 334.25L143.1 334.25M153.28 346.43L152.76 346.97L153.28 347.51L153.8 346.97L153.28 346.43M159.43 337.25L159.43 336.65L160 335.45L160.58 334.85L161.73 334.25L164.03 334.25L165.18 334.85L165.75 335.45L166.33 336.65L166.33 337.85L165.75 339.05L164.6 340.85L158.85 346.85L166.9 346.85M177.54 334.25L171.34 342.65L180.64 342.65M177.54 334.25L177.54 346.85M190.53 334.25L190.53 343.73M185.93 339.05L195.13 339.05M185.93 346.85L195.13 346.85M204.03 334.25L202.31 334.85L201.16 336.65L200.58 339.65L200.58 341.45L201.16 344.45L202.31 346.25L204.03 346.85L205.18 346.85L206.91 346.25L208.06 344.45L208.63 341.45L208.63 339.65L208.06 336.65L206.91 334.85L205.18 334.25L204.03 334.25M214.21 346.43L213.69 346.97L214.21 347.51L214.72 346.97L214.21 346.43M223.23 334.25L221.51 334.85L220.36 336.65L219.78 339.65L219.78 341.45L220.36 344.45L221.51 346.25L223.23 346.85L224.38 346.85L226.11 346.25L227.26 344.45L227.83 341.45L227.83 339.65L227.26 336.65L226.11 334.85L224.38 334.25L223.23 334.25M238.47 334.25L232.27 342.65L241.57 342.65M238.47 334.25L238.47 346.85" stroke="#000" stroke-width="2.4"/>
<path d="M118.47 343.52L118.47 351.25M116.65 343.52L120.29 343.52" stroke="#000" stroke-width="2.4"/>
<path d="M107.71 360.25L106.43 360.85L105.15 362.05L104.51 363.25L103.87 365.05L103.87 366.85L104.51 368.05L105.79 368.65L107.07 368.65L108.35 368.05L110.27 366.25L111.55 364.45L112.83 362.05L113.47 360.25M107.71 360.25L108.99 360.25L109.63 360.85L110.27 362.05L111.55 366.85L112.19 368.05L112.83 368.65L113.47 368.65M127.56 361.57L136.9 361.57M127.56 365.89L136.9 365.89M143.2 363.25L152.74 363.25M161.1 356.05L159.37 356.65L158.22 358.45L157.65 361.45L157.65 363.25L158.22 366.25L159.37 368.05L161.1 368.65L162.25 368.65L163.97 368.05L165.12 366.25L165.7 363.25L165.7 361.45L165.12 358.45L163.97 356.65L162.25 356.05L161.1 356.05M171.27 368.23L170.75 368.77L171.27 369.31L171.79 368.77L171.27 368.23M184.32 357.85L183.75 356.65L182.02 356.05L180.87 356.05L179.15 356.65L178 358.45L177.42 361.45L177.42 364.45L178 366.85L179.15 368.05L180.87 368.65L181.45 368.65L183.17 368.05L184.32 366.85L184.9 365.05L184.9 364.45L184.32 362.65L183.17 361.45L181.45 360.85L180.87 360.85L179.15 361.45L178 362.65L177.42 364.45M195.53 356.05L189.33 364.45L198.63 364.45M195.53 356.05L195.53 368.65M208.52 356.05L208.52 365.53M203.92 360.85L213.12 360.85M203.92 368.65L213.12 368.65M222.02 356.05L220.3 356.65L219.15 358.45L218.57 361.45L218.57 363.25L219.15 366.25L220.3 368.05L222.02 368.65L223.17 368.65L224.9 368.05L226.05 366.25L226.62 363.25L226.62 361.45L226.05 358.45L224.9 356.65L223.17 356.05L222.02 356.05M232.2 368.23L231.68 368.77L232.2 369.31L232.72 368.77L232.2 368.23M238.35 359.05L238.35 358.45L238.92 357.25L239.5 356.65L240.65 356.05L242.95 356.05L244.1 356.65L244.67 357.25L245.25 358.45L245.25 359.65L244.67 360.85L243.52 362.65L237.77 368.65L245.82 368.65M251.72 356.05L258.05 356.05L254.6 360.85L256.32 360.85L257.47 361.45L258.05 362.05L258.62 363.85L258.62 365.05L258.05 366.85L256.9 368.05L255.17 368.65L253.45 368.65L251.72 368.05L251.15 367.45L250.57 366.25" stroke="#000" stroke-width="2.4"/>
<path d="M116.82 366.24L116.82 372.75M122.28 366.24L122.28 372.75M116.82 369.34L122.28 369.34" stroke="#000" stroke-width="2.4"/>
<path d="M28.55 220.71L29.46 220.28L30.82 219L30.82 227.95M39.34 219L37.97 219.43L37.06 220.71L36.6 222.84L36.6 224.12L37.06 226.25L37.97 227.52L39.34 227.95L40.24 227.95L41.61 227.52L42.52 226.25L42.98 224.12L42.98 222.84L42.52 220.71L41.61 219.43L40.24 219L39.34 219M46.85 227.65L46.45 228.04L46.85 228.42L47.26 228.04L46.85 227.65M53.47 219L52.1 219.43L51.19 220.71L50.73 222.84L50.73 224.12L51.19 226.25L52.1 227.52L53.47 227.95L54.38 227.95L55.74 227.52L56.65 226.25L57.11 224.12L57.11 222.84L56.65 220.71L55.74 219.43L54.38 219L53.47 219M62.89 219L61.52 219.43L60.61 220.71L60.16 222.84L60.16 224.12L60.61 226.25L61.52 227.52L62.89 227.95L63.8 227.95L65.16 227.52L66.07 226.25L66.53 224.12L66.53 222.84L66.07 220.71L65.16 219.43L63.8 219L62.89 219" stroke="#000" stroke-width="2.2"/>
<path d="M37.97 274.41L38.88 273.98L40.24 272.7L40.24 281.65M46.85 281.35L46.45 281.74L46.85 282.12L47.26 281.74L46.85 281.35M53.47 272.7L52.1 273.13L51.19 274.41L50.73 276.54L50.73 277.82L51.19 279.95L52.1 281.22L53.47 281.65L54.38 281.65L55.74 281.22L56.65 279.95L57.11 277.82L57.11 276.54L56.65 274.41L55.74 273.13L54.38 272.7L53.47 272.7M62.89 272.7L61.52 273.13L60.61 274.41L60.16 276.54L60.16 277.82L60.61 279.95L61.52 281.22L62.89 281.65L63.8 281.65L65.16 281.22L66.07 279.95L66.53 277.82L66.53 276.54L66.07 274.41L65.16 273.13L63.8 272.7L62.89 272.7" stroke="#000" stroke-width="2.2"/>
<path d="M39.34 326.4L37.97 326.83L37.06 328.11L36.6 330.24L36.6 331.52L37.06 333.65L37.97 334.92L39.34 335.35L40.24 335.35L41.61 334.92L42.52 333.65L42.98 331.52L42.98 330.24L42.52 328.11L41.61 326.83L40.24 326.4L39.34 326.4M46.85 335.05L46.45 335.44L46.85 335.82L47.26 335.44L46.85 335.05M52.1 328.11L53.01 327.68L54.38 326.4L54.38 335.35M62.89 326.4L61.52 326.83L60.61 328.11L60.16 330.24L60.16 331.52L60.61 333.65L61.52 334.92L62.89 335.35L63.8 335.35L65.16 334.92L66.07 333.65L66.53 331.52L66.53 330.24L66.07 328.11L65.16 326.83L63.8 326.4L62.89 326.4" stroke="#000" stroke-width="2.2"/>
<path d="M39.34 374.75L37.97 375.18L37.06 376.46L36.6 378.59L36.6 379.87L37.06 382L37.97 383.27L39.34 383.7L40.24 383.7L41.61 383.27L42.52 382L42.98 379.87L42.98 378.59L42.52 376.46L41.61 375.18L40.24 374.75L39.34 374.75M46.85 383.4L46.45 383.79L46.85 384.17L47.26 383.79L46.85 383.4M53.47 374.75L52.1 375.18L51.19 376.46L50.73 378.59L50.73 379.87L51.19 382L52.1 383.27L53.47 383.7L54.38 383.7L55.74 383.27L56.65 382L57.11 379.87L57.11 378.59L56.65 376.46L55.74 375.18L54.38 374.75L53.47 374.75M61.52 376.46L62.43 376.03L63.8 374.75L63.8 383.7" stroke="#000" stroke-width="2.2"/>
<path d="M305.9 223.05h4.3M502.8 223.05h-4.3M305.9 276.75h4.3M502.8 276.75h-4.3M305.9 330.45h4.3M502.8 330.45h-4.3M305.9 384.3h4.3M502.8 384.3h-4.3M305.9 260.58h2.3M502.8 260.58h-2.3M305.9 251.13h2.3M502.8 251.13h-2.3M305.9 244.42h2.3M502.8 244.42h-2.3M305.9 239.22h2.3M502.8 239.22h-2.3M305.9 234.96h2.3M502.8 234.96h-2.3M305.9 231.37h2.3M502.8 231.37h-2.3M305.9 228.25h2.3M502.8 228.25h-2.3M305.9 225.51h2.3M502.8 225.51h-2.3M305.9 314.28h2.3M502.8 314.28h-2.3M305.9 304.83h2.3M502.8 304.83h-2.3M305.9 298.12h2.3M502.8 298.12h-2.3M305.9 292.92h2.3M502.8 292.92h-2.3M305.9 288.66h2.3M502.8 288.66h-2.3M305.9 285.07h2.3M502.8 285.07h-2.3M305.9 281.95h2.3M502.8 281.95h-2.3M305.9 279.21h2.3M502.8 279.21h-2.3M305.9 367.98h2.3M502.8 367.98h-2.3M305.9 358.53h2.3M502.8 358.53h-2.3M305.9 351.82h2.3M502.8 351.82h-2.3M305.9 346.62h2.3M502.8 346.62h-2.3M305.9 342.36h2.3M502.8 342.36h-2.3M305.9 338.77h2.3M502.8 338.77h-2.3M305.9 335.65h2.3M502.8 335.65h-2.3M305.9 332.91h2.3M502.8 332.91h-2.3M404.35 206.9v4.3M404.35 384.3v-4.3M335.54 206.9v2.3M335.54 384.3v-2.3M352.87 206.9v2.3M352.87 384.3v-2.3M365.17 206.9v2.3M365.17 384.3v-2.3M374.71 206.9v2.3M374.71 384.3v-2.3M382.51 206.9v2.3M382.51 384.3v-2.3M389.1 206.9v2.3M389.1 384.3v-2.3M394.81 206.9v2.3M394.81 384.3v-2.3M399.85 206.9v2.3M399.85 384.3v-2.3M433.99 206.9v2.3M433.99 384.3v-2.3M451.32 206.9v2.3M451.32 384.3v-2.3M463.62 206.9v2.3M463.62 384.3v-2.3M473.16 206.9v2.3M473.16 384.3v-2.3M480.96 206.9v2.3M480.96 384.3v-2.3M487.55 206.9v2.3M487.55 384.3v-2.3M493.26 206.9v2.3M493.26 384.3v-2.3M498.3 206.9v2.3M498.3 384.3v-2.3" stroke="#000" stroke-width="2.0" stroke-linecap="butt"/>
<rect x="305.9" y="206.9" width="196.9" height="177.4" stroke="#000" stroke-width="2.3" stroke-linejoin="round"/>
<g clip-path="url(#c5)">
<line x1="304.7" y1="327.9" x2="387.6" y2="270.5" stroke="#f00" stroke-width="2.1" stroke-dasharray="11.4 10.2" stroke-dashoffset="-0.8" stroke-linecap="butt"/>
<line x1="387.6" y1="270.5" x2="435.7" y2="262.8" stroke="#f00" stroke-width="2.1" stroke-dasharray="11.4 10.2" stroke-dashoffset="0" stroke-linecap="butt"/>
<line x1="435.7" y1="262.8" x2="502.55" y2="265.5" stroke="#f00" stroke-width="2.1" stroke-dasharray="11.4 10.2" stroke-dashoffset="0" stroke-linecap="butt"/>
</g>
<path d="M376.3 278.1V279.3M373.4 278.1H379.2M373.4 279.3H379.2M387.8 269.9V271.1M384.9 269.9H390.7M384.9 271.1H390.7M397.9 268.4V269.6M395 268.4H400.8M395 269.6H400.8M416.6 266.4V267.6M413.7 266.4H419.5M413.7 267.6H419.5M434.1 261.9V263.1M431.2 261.9H437M431.2 263.1H437M444.4 263.5V264.7M441.5 263.5H447.3M441.5 264.7H447.3M448.5 261.9V263.1M445.6 261.9H451.4M445.6 263.1H451.4M459.8 263.5V264.7M456.9 263.5H462.7M456.9 264.7H462.7" stroke="#000" stroke-width="2.0" stroke-linecap="butt"/>
<g fill="#000" stroke="none"><circle cx="376.3" cy="278.7" r="2.4"/><circle cx="387.8" cy="270.5" r="2.4"/><circle cx="397.9" cy="269" r="2.4"/><circle cx="416.6" cy="267" r="2.4"/><circle cx="434.1" cy="262.5" r="2.4"/><circle cx="444.4" cy="264.1" r="2.4"/><circle cx="448.5" cy="262.5" r="2.4"/><circle cx="459.8" cy="264.1" r="2.4"/></g>
<path d="M318.56 214.81L318.56 225.1M318.56 214.81L322.07 214.81L323.58 215.3L324.58 216.28L325.08 217.26L325.59 218.73L325.59 221.18L325.08 222.65L324.58 223.63L323.58 224.61L322.07 225.1L318.56 225.1M334.62 218.24L334.62 225.1M334.62 219.71L333.62 218.73L332.61 218.24L331.11 218.24L330.1 218.73L329.1 219.71L328.6 221.18L328.6 222.16L329.1 223.63L330.1 224.61L331.11 225.1L332.61 225.1L333.62 224.61L334.62 223.63M337.63 218.24L340.65 225.1M343.66 218.24L340.65 225.1L339.64 227.06L338.64 228.04L337.63 228.53L337.13 228.53M360.22 214.81L355.2 214.81L354.7 219.22L355.2 218.73L356.71 218.24L358.22 218.24L359.72 218.73L360.73 219.71L361.23 221.18L361.23 222.16L360.73 223.63L359.72 224.61L358.22 225.1L356.71 225.1L355.2 224.61L354.7 224.12L354.2 223.14M366.75 214.81L365.24 215.3L364.74 216.28L364.74 217.26L365.24 218.24L366.25 218.73L368.26 219.22L369.76 219.71L370.77 220.69L371.27 221.67L371.27 223.14L370.77 224.12L370.26 224.61L368.76 225.1L366.75 225.1L365.24 224.61L364.74 224.12L364.24 223.14L364.24 221.67L364.74 220.69L365.75 219.71L367.25 219.22L369.26 218.73L370.26 218.24L370.77 217.26L370.77 216.28L370.26 215.3L368.76 214.81L366.75 214.81M381.31 214.81L376.29 225.1M374.28 214.81L381.31 214.81" stroke="#000" stroke-width="2.5"/>
<path d="M318.56 233.96L318.56 244.25M318.56 233.96L325.08 233.96M318.56 238.86L322.57 238.86M318.56 244.25L325.08 244.25M328.1 237.39L328.1 247.68M328.1 238.86L329.1 237.88L330.1 237.39L331.61 237.39L332.61 237.88L333.62 238.86L334.12 240.33L334.12 241.31L333.62 242.78L332.61 243.76L331.61 244.25L330.1 244.25L329.1 243.76L328.1 242.78M339.64 237.39L338.64 237.88L337.63 238.86L337.13 240.33L337.13 241.31L337.63 242.78L338.64 243.76L339.64 244.25L341.15 244.25L342.15 243.76L343.16 242.78L343.66 241.31L343.66 240.33L343.16 238.86L342.15 237.88L341.15 237.39L339.64 237.39M352.69 238.86L351.69 237.88L350.69 237.39L349.18 237.39L348.18 237.88L347.17 238.86L346.67 240.33L346.67 241.31L347.17 242.78L348.18 243.76L349.18 244.25L350.69 244.25L351.69 243.76L352.69 242.78M356.21 233.96L356.21 244.25M356.21 239.35L357.71 237.88L358.72 237.39L360.22 237.39L361.23 237.88L361.73 239.35L361.73 244.25M374.78 235.92L375.79 235.43L377.29 233.96L377.29 244.25M385.83 233.96L384.32 234.45L383.82 235.43L383.82 236.41L384.32 237.39L385.32 237.88L387.33 238.37L388.84 238.86L389.84 239.84L390.34 240.82L390.34 242.29L389.84 243.27L389.34 243.76L387.83 244.25L385.83 244.25L384.32 243.76L383.82 243.27L383.32 242.29L383.32 240.82L383.82 239.84L384.82 238.86L386.33 238.37L388.34 237.88L389.34 237.39L389.84 236.41L389.84 235.43L389.34 234.45L387.83 233.96L385.83 233.96" stroke="#00f" stroke-width="2.5"/>
<path d="M340.56 316.05L339.28 316.65L338 317.85L337.36 319.05L336.72 320.85L336.72 322.65L337.36 323.85L338.64 324.45L339.92 324.45L341.2 323.85L343.12 322.05L344.4 320.25L345.68 317.85L346.32 316.05M340.56 316.05L341.84 316.05L342.48 316.65L343.12 317.85L344.4 322.65L345.04 323.85L345.68 324.45L346.32 324.45M358.01 317.37L367.35 317.37M358.01 321.69L367.35 321.69M374.59 314.25L375.74 313.65L377.46 311.85L377.46 324.45M386.49 324.03L385.97 324.57L386.49 325.11L387.01 324.57L386.49 324.03M392.64 314.85L392.64 314.25L393.21 313.05L393.79 312.45L394.94 311.85L397.24 311.85L398.39 312.45L398.96 313.05L399.54 314.25L399.54 315.45L398.96 316.65L397.81 318.45L392.06 324.45L400.11 324.45M412.34 313.65L411.76 312.45L410.04 311.85L408.89 311.85L407.16 312.45L406.01 314.25L405.44 317.25L405.44 320.25L406.01 322.65L407.16 323.85L408.89 324.45L409.46 324.45L411.19 323.85L412.34 322.65L412.91 320.85L412.91 320.25L412.34 318.45L411.19 317.25L409.46 316.65L408.89 316.65L407.16 317.25L406.01 318.45L405.44 320.25M423.74 311.85L423.74 321.33M419.14 316.65L428.34 316.65M419.14 324.45L428.34 324.45M437.24 311.85L435.52 312.45L434.37 314.25L433.79 317.25L433.79 319.05L434.37 322.05L435.52 323.85L437.24 324.45L438.39 324.45L440.12 323.85L441.27 322.05L441.84 319.05L441.84 317.25L441.27 314.25L440.12 312.45L438.39 311.85L437.24 311.85M447.42 324.03L446.9 324.57L447.42 325.11L447.93 324.57L447.42 324.03M454.72 314.25L455.87 313.65L457.59 311.85L457.59 324.45M469.24 311.85L467.52 312.45L466.37 314.25L465.79 317.25L465.79 319.05L466.37 322.05L467.52 323.85L469.24 324.45L470.39 324.45L472.12 323.85L473.27 322.05L473.84 319.05L473.84 317.25L473.27 314.25L472.12 312.45L470.39 311.85L469.24 311.85" stroke="#000" stroke-width="2.4"/>
<path d="M350.18 323.12L350.18 330.05M350.18 330.05L353.9 330.05" stroke="#000" stroke-width="2.4"/>
<path d="M340.56 338.45L339.28 339.05L338 340.25L337.36 341.45L336.72 343.25L336.72 345.05L337.36 346.25L338.64 346.85L339.92 346.85L341.2 346.25L343.12 344.45L344.4 342.65L345.68 340.25L346.32 338.45M340.56 338.45L341.84 338.45L342.48 339.05L343.12 340.25L344.4 345.05L345.04 346.25L345.68 346.85L346.32 346.85M357.65 339.77L366.99 339.77M357.65 344.09L366.99 344.09M375.95 334.25L374.23 334.85L373.08 336.65L372.5 339.65L372.5 341.45L373.08 344.45L374.23 346.25L375.95 346.85L377.1 346.85L378.83 346.25L379.98 344.45L380.55 341.45L380.55 339.65L379.98 336.65L378.83 334.85L377.1 334.25L375.95 334.25M386.13 346.43L385.61 346.97L386.13 347.51L386.65 346.97L386.13 346.43M392.85 334.25L399.18 334.25L395.73 339.05L397.45 339.05L398.6 339.65L399.18 340.25L399.75 342.05L399.75 343.25L399.18 345.05L398.03 346.25L396.3 346.85L394.58 346.85L392.85 346.25L392.28 345.65L391.7 344.45M407.95 334.25L406.23 334.85L405.08 336.65L404.5 339.65L404.5 341.45L405.08 344.45L406.23 346.25L407.95 346.85L409.1 346.85L410.83 346.25L411.98 344.45L412.55 341.45L412.55 339.65L411.98 336.65L410.83 334.85L409.1 334.25L407.95 334.25M423.38 334.25L423.38 343.73M418.78 339.05L427.98 339.05M418.78 346.85L427.98 346.85M436.88 334.25L435.16 334.85L434.01 336.65L433.43 339.65L433.43 341.45L434.01 344.45L435.16 346.25L436.88 346.85L438.03 346.85L439.76 346.25L440.91 344.45L441.48 341.45L441.48 339.65L440.91 336.65L439.76 334.85L438.03 334.25L436.88 334.25M447.06 346.43L446.54 346.97L447.06 347.51L447.57 346.97L447.06 346.43M456.08 334.25L454.36 334.85L453.21 336.65L452.63 339.65L452.63 341.45L453.21 344.45L454.36 346.25L456.08 346.85L457.23 346.85L458.96 346.25L460.11 344.45L460.68 341.45L460.68 339.65L460.11 336.65L458.96 334.85L457.23 334.25L456.08 334.25M472.33 334.25L466.58 334.25L466.01 339.65L466.58 339.05L468.31 338.45L470.03 338.45L471.76 339.05L472.91 340.25L473.48 342.05L473.48 343.25L472.91 345.05L471.76 346.25L470.03 346.85L468.31 346.85L466.58 346.25L466.01 345.65L465.43 344.45" stroke="#000" stroke-width="2.4"/>
<path d="M351.32 343.52L351.32 351.25M349.5 343.52L353.14 343.52" stroke="#000" stroke-width="2.4"/>
<path d="M340.56 360.25L339.28 360.85L338 362.05L337.36 363.25L336.72 365.05L336.72 366.85L337.36 368.05L338.64 368.65L339.92 368.65L341.2 368.05L343.12 366.25L344.4 364.45L345.68 362.05L346.32 360.25M340.56 360.25L341.84 360.25L342.48 360.85L343.12 362.05L344.4 366.85L345.04 368.05L345.68 368.65L346.32 368.65M360.41 361.57L369.75 361.57M360.41 365.89L369.75 365.89M376.05 363.25L385.59 363.25M393.94 356.05L392.22 356.65L391.07 358.45L390.49 361.45L390.49 363.25L391.07 366.25L392.22 368.05L393.94 368.65L395.09 368.65L396.82 368.05L397.97 366.25L398.54 363.25L398.54 361.45L397.97 358.45L396.82 356.65L395.09 356.05L393.94 356.05M404.12 368.23L403.6 368.77L404.12 369.31L404.64 368.77L404.12 368.23M413.14 356.05L411.42 356.65L410.27 358.45L409.69 361.45L409.69 363.25L410.27 366.25L411.42 368.05L413.14 368.65L414.29 368.65L416.02 368.05L417.17 366.25L417.74 363.25L417.74 361.45L417.17 358.45L416.02 356.65L414.29 356.05L413.14 356.05M425.37 356.05L423.64 356.65L423.07 357.85L423.07 359.05L423.64 360.25L424.79 360.85L427.09 361.45L428.82 362.05L429.97 363.25L430.54 364.45L430.54 366.25L429.97 367.45L429.39 368.05L427.67 368.65L425.37 368.65L423.64 368.05L423.07 367.45L422.49 366.25L422.49 364.45L423.07 363.25L424.22 362.05L425.94 361.45L428.24 360.85L429.39 360.25L429.97 359.05L429.97 357.85L429.39 356.65L427.67 356.05L425.37 356.05M441.37 356.05L441.37 365.53M436.77 360.85L445.97 360.85M436.77 368.65L445.97 368.65M454.87 356.05L453.15 356.65L452 358.45L451.42 361.45L451.42 363.25L452 366.25L453.15 368.05L454.87 368.65L456.02 368.65L457.75 368.05L458.9 366.25L459.47 363.25L459.47 361.45L458.9 358.45L457.75 356.65L456.02 356.05L454.87 356.05M465.05 368.23L464.53 368.77L465.05 369.31L465.57 368.77L465.05 368.23M472.35 358.45L473.5 357.85L475.22 356.05L475.22 368.65M491.17 360.25L490.55 362.05L489.31 363.25L487.45 363.85L486.83 363.85L484.97 363.25L483.73 362.05L483.11 360.25L483.11 359.65L483.73 357.85L484.97 356.65L486.83 356.05L487.45 356.05L489.31 356.65L490.55 357.85L491.17 360.25L491.17 363.25L490.55 366.25L489.31 368.05L487.45 368.65L486.21 368.65L484.35 368.05L483.73 366.85" stroke="#000" stroke-width="2.4"/>
<path d="M349.67 366.24L349.67 372.75M355.13 366.24L355.13 372.75M349.67 369.34L355.13 369.34" stroke="#000" stroke-width="2.4"/>
<path d="M538.65 223.05h4.3M735.85 223.05h-4.3M538.65 276.75h4.3M735.85 276.75h-4.3M538.65 330.45h4.3M735.85 330.45h-4.3M538.65 384.3h4.3M735.85 384.3h-4.3M538.65 260.58h2.3M735.85 260.58h-2.3M538.65 251.13h2.3M735.85 251.13h-2.3M538.65 244.42h2.3M735.85 244.42h-2.3M538.65 239.22h2.3M735.85 239.22h-2.3M538.65 234.96h2.3M735.85 234.96h-2.3M538.65 231.37h2.3M735.85 231.37h-2.3M538.65 228.25h2.3M735.85 228.25h-2.3M538.65 225.51h2.3M735.85 225.51h-2.3M538.65 314.28h2.3M735.85 314.28h-2.3M538.65 304.83h2.3M735.85 304.83h-2.3M538.65 298.12h2.3M735.85 298.12h-2.3M538.65 292.92h2.3M735.85 292.92h-2.3M538.65 288.66h2.3M735.85 288.66h-2.3M538.65 285.07h2.3M735.85 285.07h-2.3M538.65 281.95h2.3M735.85 281.95h-2.3M538.65 279.21h2.3M735.85 279.21h-2.3M538.65 367.98h2.3M735.85 367.98h-2.3M538.65 358.53h2.3M735.85 358.53h-2.3M538.65 351.82h2.3M735.85 351.82h-2.3M538.65 346.62h2.3M735.85 346.62h-2.3M538.65 342.36h2.3M735.85 342.36h-2.3M538.65 338.77h2.3M735.85 338.77h-2.3M538.65 335.65h2.3M735.85 335.65h-2.3M538.65 332.91h2.3M735.85 332.91h-2.3M637.25 206.9v4.3M637.25 384.3v-4.3M568.33 206.9v2.3M568.33 384.3v-2.3M585.69 206.9v2.3M585.69 384.3v-2.3M598.01 206.9v2.3M598.01 384.3v-2.3M607.57 206.9v2.3M607.57 384.3v-2.3M615.38 206.9v2.3M615.38 384.3v-2.3M621.98 206.9v2.3M621.98 384.3v-2.3M627.69 206.9v2.3M627.69 384.3v-2.3M632.74 206.9v2.3M632.74 384.3v-2.3M666.93 206.9v2.3M666.93 384.3v-2.3M684.29 206.9v2.3M684.29 384.3v-2.3M696.61 206.9v2.3M696.61 384.3v-2.3M706.17 206.9v2.3M706.17 384.3v-2.3M713.98 206.9v2.3M713.98 384.3v-2.3M720.58 206.9v2.3M720.58 384.3v-2.3M726.29 206.9v2.3M726.29 384.3v-2.3M731.34 206.9v2.3M731.34 384.3v-2.3" stroke="#000" stroke-width="2.0" stroke-linecap="butt"/>
<rect x="538.65" y="206.9" width="197.2" height="177.4" stroke="#000" stroke-width="2.3" stroke-linejoin="round"/>
<g clip-path="url(#c6)">
<line x1="537.5" y1="274.86" x2="735.35" y2="298.7" stroke="#f00" stroke-width="2.1" stroke-dasharray="11.4 10.2" stroke-dashoffset="-0.56" stroke-linecap="butt"/>
</g>
<path d="M609.1 283.3V287.3M606.2 283.3H612M606.2 287.3H612M620.8 281.2V285.6M617.9 281.2H623.7M617.9 285.6H623.7M649.4 284V289M646.5 284H652.3M646.5 289H652.3M657.4 287.7V292.7M654.5 287.7H660.3M654.5 292.7H660.3M677.4 291.8V302.6M674.5 291.8H680.3M674.5 302.6H680.3" stroke="#000" stroke-width="2.0" stroke-linecap="butt"/>
<g fill="#000" stroke="none"><circle cx="609.1" cy="285.3" r="2.4"/><circle cx="620.8" cy="283.4" r="2.4"/><circle cx="649.4" cy="286.5" r="2.4"/><circle cx="657.4" cy="290.2" r="2.4"/><circle cx="677.4" cy="297.2" r="2.4"/></g>
<path d="M551.31 214.81L551.31 225.1M551.31 214.81L554.82 214.81L556.33 215.3L557.33 216.28L557.83 217.26L558.34 218.73L558.34 221.18L557.83 222.65L557.33 223.63L556.33 224.61L554.82 225.1L551.31 225.1M567.37 218.24L567.37 225.1M567.37 219.71L566.37 218.73L565.36 218.24L563.86 218.24L562.85 218.73L561.85 219.71L561.35 221.18L561.35 222.16L561.85 223.63L562.85 224.61L563.86 225.1L565.36 225.1L566.37 224.61L567.37 223.63M570.38 218.24L573.4 225.1M576.41 218.24L573.4 225.1L572.39 227.06L571.39 228.04L570.38 228.53L569.88 228.53M589.46 214.81L587.95 215.3L587.45 216.28L587.45 217.26L587.95 218.24L588.96 218.73L590.97 219.22L592.47 219.71L593.48 220.69L593.98 221.67L593.98 223.14L593.48 224.12L592.97 224.61L591.47 225.1L589.46 225.1L587.95 224.61L587.45 224.12L586.95 223.14L586.95 221.67L587.45 220.69L588.46 219.71L589.96 219.22L591.97 218.73L592.97 218.24L593.48 217.26L593.48 216.28L592.97 215.3L591.47 214.81L589.46 214.81M598.5 216.77L599.5 216.28L601.01 214.81L601.01 225.1M609.54 214.81L608.03 215.3L607.53 216.28L607.53 217.26L608.03 218.24L609.04 218.73L611.05 219.22L612.55 219.71L613.56 220.69L614.06 221.67L614.06 223.14L613.56 224.12L613.05 224.61L611.55 225.1L609.54 225.1L608.03 224.61L607.53 224.12L607.03 223.14L607.03 221.67L607.53 220.69L608.54 219.71L610.04 219.22L612.05 218.73L613.05 218.24L613.56 217.26L613.56 216.28L613.05 215.3L611.55 214.81L609.54 214.81" stroke="#000" stroke-width="2.5"/>
<path d="M551.31 233.96L551.31 244.25M551.31 233.96L557.83 233.96M551.31 238.86L555.32 238.86M551.31 244.25L557.83 244.25M560.85 237.39L560.85 247.68M560.85 238.86L561.85 237.88L562.85 237.39L564.36 237.39L565.36 237.88L566.37 238.86L566.87 240.33L566.87 241.31L566.37 242.78L565.36 243.76L564.36 244.25L562.85 244.25L561.85 243.76L560.85 242.78M572.39 237.39L571.39 237.88L570.38 238.86L569.88 240.33L569.88 241.31L570.38 242.78L571.39 243.76L572.39 244.25L573.9 244.25L574.9 243.76L575.91 242.78L576.41 241.31L576.41 240.33L575.91 238.86L574.9 237.88L573.9 237.39L572.39 237.39M585.44 238.86L584.44 237.88L583.44 237.39L581.93 237.39L580.93 237.88L579.92 238.86L579.42 240.33L579.42 241.31L579.92 242.78L580.93 243.76L581.93 244.25L583.44 244.25L584.44 243.76L585.44 242.78M588.96 233.96L588.96 244.25M588.96 239.35L590.46 237.88L591.47 237.39L592.97 237.39L593.98 237.88L594.48 239.35L594.48 244.25M607.53 235.92L608.54 235.43L610.04 233.96L610.04 244.25M622.59 237.39L622.09 238.86L621.09 239.84L619.58 240.33L619.08 240.33L617.57 239.84L616.57 238.86L616.07 237.39L616.07 236.9L616.57 235.43L617.57 234.45L619.08 233.96L619.58 233.96L621.09 234.45L622.09 235.43L622.59 237.39L622.59 239.84L622.09 242.29L621.09 243.76L619.58 244.25L618.58 244.25L617.07 243.76L616.57 242.78" stroke="#00f" stroke-width="2.5"/>
<path d="M573.31 360.25L572.03 360.85L570.75 362.05L570.11 363.25L569.47 365.05L569.47 366.85L570.11 368.05L571.39 368.65L572.67 368.65L573.95 368.05L575.87 366.25L577.15 364.45L578.43 362.05L579.07 360.25M573.31 360.25L574.59 360.25L575.23 360.85L575.87 362.05L577.15 366.85L577.79 368.05L578.43 368.65L579.07 368.65M593.16 361.57L602.5 361.57M593.16 365.89L602.5 365.89M608.8 363.25L618.34 363.25M626.69 356.05L624.97 356.65L623.82 358.45L623.25 361.45L623.25 363.25L623.82 366.25L624.97 368.05L626.69 368.65L627.85 368.65L629.57 368.05L630.72 366.25L631.29 363.25L631.29 361.45L630.72 358.45L629.57 356.65L627.85 356.05L626.69 356.05M636.87 368.23L636.35 368.77L636.87 369.31L637.39 368.77L636.87 368.23M643.02 359.05L643.02 358.45L643.59 357.25L644.17 356.65L645.32 356.05L647.62 356.05L648.77 356.65L649.34 357.25L649.92 358.45L649.92 359.65L649.34 360.85L648.19 362.65L642.44 368.65L650.49 368.65M655.82 359.05L655.82 358.45L656.39 357.25L656.97 356.65L658.12 356.05L660.42 356.05L661.57 356.65L662.14 357.25L662.72 358.45L662.72 359.65L662.14 360.85L660.99 362.65L655.24 368.65L663.29 368.65M674.12 356.05L674.12 365.53M669.52 360.85L678.72 360.85M669.52 368.65L678.72 368.65M687.62 356.05L685.9 356.65L684.75 358.45L684.17 361.45L684.17 363.25L684.75 366.25L685.9 368.05L687.62 368.65L688.77 368.65L690.5 368.05L691.65 366.25L692.22 363.25L692.22 361.45L691.65 358.45L690.5 356.65L688.77 356.05L687.62 356.05M697.8 368.23L697.28 368.77L697.8 369.31L698.32 368.77L697.8 368.23M706.82 356.05L705.1 356.65L703.95 358.45L703.37 361.45L703.37 363.25L703.95 366.25L705.1 368.05L706.82 368.65L707.97 368.65L709.7 368.05L710.85 366.25L711.42 363.25L711.42 361.45L710.85 358.45L709.7 356.65L707.97 356.05L706.82 356.05M719.05 356.05L717.32 356.65L716.75 357.85L716.75 359.05L717.32 360.25L718.47 360.85L720.77 361.45L722.5 362.05L723.65 363.25L724.22 364.45L724.22 366.25L723.65 367.45L723.07 368.05L721.35 368.65L719.05 368.65L717.32 368.05L716.75 367.45L716.17 366.25L716.17 364.45L716.75 363.25L717.9 362.05L719.62 361.45L721.92 360.85L723.07 360.25L723.65 359.05L723.65 357.85L723.07 356.65L721.35 356.05L719.05 356.05" stroke="#000" stroke-width="2.4"/>
<path d="M582.42 366.24L582.42 372.75M587.88 366.24L587.88 372.75M582.42 369.34L587.88 369.34" stroke="#000" stroke-width="2.4"/>
<path d="M771.5 223.05h4.3M968.65 223.05h-4.3M771.5 276.75h4.3M968.65 276.75h-4.3M771.5 330.45h4.3M968.65 330.45h-4.3M771.5 384.3h4.3M968.65 384.3h-4.3M771.5 260.58h2.3M968.65 260.58h-2.3M771.5 251.13h2.3M968.65 251.13h-2.3M771.5 244.42h2.3M968.65 244.42h-2.3M771.5 239.22h2.3M968.65 239.22h-2.3M771.5 234.96h2.3M968.65 234.96h-2.3M771.5 231.37h2.3M968.65 231.37h-2.3M771.5 228.25h2.3M968.65 228.25h-2.3M771.5 225.51h2.3M968.65 225.51h-2.3M771.5 314.28h2.3M968.65 314.28h-2.3M771.5 304.83h2.3M968.65 304.83h-2.3M771.5 298.12h2.3M968.65 298.12h-2.3M771.5 292.92h2.3M968.65 292.92h-2.3M771.5 288.66h2.3M968.65 288.66h-2.3M771.5 285.07h2.3M968.65 285.07h-2.3M771.5 281.95h2.3M968.65 281.95h-2.3M771.5 279.21h2.3M968.65 279.21h-2.3M771.5 367.98h2.3M968.65 367.98h-2.3M771.5 358.53h2.3M968.65 358.53h-2.3M771.5 351.82h2.3M968.65 351.82h-2.3M771.5 346.62h2.3M968.65 346.62h-2.3M771.5 342.36h2.3M968.65 342.36h-2.3M771.5 338.77h2.3M968.65 338.77h-2.3M771.5 335.65h2.3M968.65 335.65h-2.3M771.5 332.91h2.3M968.65 332.91h-2.3M870.08 206.9v4.3M870.08 384.3v-4.3M801.17 206.9v2.3M801.17 384.3v-2.3M818.53 206.9v2.3M818.53 384.3v-2.3M830.85 206.9v2.3M830.85 384.3v-2.3M840.4 206.9v2.3M840.4 384.3v-2.3M848.21 206.9v2.3M848.21 384.3v-2.3M854.81 206.9v2.3M854.81 384.3v-2.3M860.52 206.9v2.3M860.52 384.3v-2.3M865.56 206.9v2.3M865.56 384.3v-2.3M899.75 206.9v2.3M899.75 384.3v-2.3M917.11 206.9v2.3M917.11 384.3v-2.3M929.42 206.9v2.3M929.42 384.3v-2.3M938.98 206.9v2.3M938.98 384.3v-2.3M946.78 206.9v2.3M946.78 384.3v-2.3M953.38 206.9v2.3M953.38 384.3v-2.3M959.1 206.9v2.3M959.1 384.3v-2.3M964.14 206.9v2.3M964.14 384.3v-2.3" stroke="#000" stroke-width="2.0" stroke-linecap="butt"/>
<rect x="771.5" y="206.9" width="197.15" height="177.4" stroke="#000" stroke-width="2.3" stroke-linejoin="round"/>
<g clip-path="url(#c7)">
<line x1="770.3" y1="247.9" x2="968.15" y2="298.7" stroke="#f00" stroke-width="2.1" stroke-dasharray="11.4 10.2" stroke-dashoffset="-0.59" stroke-linecap="butt"/>
</g>
<path d="M914.3 280.9V290.1M911.4 280.9H917.2M911.4 290.1H917.2M925.6 281.8V295.8M922.7 281.8H928.5M922.7 295.8H928.5" stroke="#000" stroke-width="2.0" stroke-linecap="butt"/>
<g fill="#000" stroke="none"><circle cx="914.3" cy="285.5" r="2.4"/><circle cx="925.6" cy="288" r="2.4"/></g>
<path d="M784.16 214.81L784.16 225.1M784.16 214.81L787.67 214.81L789.18 215.3L790.18 216.28L790.68 217.26L791.19 218.73L791.19 221.18L790.68 222.65L790.18 223.63L789.18 224.61L787.67 225.1L784.16 225.1M800.22 218.24L800.22 225.1M800.22 219.71L799.22 218.73L798.21 218.24L796.71 218.24L795.7 218.73L794.7 219.71L794.2 221.18L794.2 222.16L794.7 223.63L795.7 224.61L796.71 225.1L798.21 225.1L799.22 224.61L800.22 223.63M803.23 218.24L806.25 225.1M809.26 218.24L806.25 225.1L805.24 227.06L804.24 228.04L803.23 228.53L802.73 228.53M822.31 214.81L820.8 215.3L820.3 216.28L820.3 217.26L820.8 218.24L821.81 218.73L823.82 219.22L825.32 219.71L826.33 220.69L826.83 221.67L826.83 223.14L826.33 224.12L825.82 224.61L824.32 225.1L822.31 225.1L820.8 224.61L820.3 224.12L819.8 223.14L819.8 221.67L820.3 220.69L821.31 219.71L822.81 219.22L824.82 218.73L825.82 218.24L826.33 217.26L826.33 216.28L825.82 215.3L824.32 214.81L822.31 214.81M830.84 214.81L836.37 214.81L833.35 218.73L834.86 218.73L835.86 219.22L836.37 219.71L836.87 221.18L836.87 222.16L836.37 223.63L835.36 224.61L833.86 225.1L832.35 225.1L830.84 224.61L830.34 224.12L829.84 223.14M840.88 214.81L846.41 214.81L843.39 218.73L844.9 218.73L845.9 219.22L846.41 219.71L846.91 221.18L846.91 222.16L846.41 223.63L845.4 224.61L843.9 225.1L842.39 225.1L840.88 224.61L840.38 224.12L839.88 223.14" stroke="#000" stroke-width="2.5"/>
<path d="M784.16 233.96L784.16 244.25M784.16 233.96L790.68 233.96M784.16 238.86L788.17 238.86M784.16 244.25L790.68 244.25M793.7 237.39L793.7 247.68M793.7 238.86L794.7 237.88L795.7 237.39L797.21 237.39L798.21 237.88L799.22 238.86L799.72 240.33L799.72 241.31L799.22 242.78L798.21 243.76L797.21 244.25L795.7 244.25L794.7 243.76L793.7 242.78M805.24 237.39L804.24 237.88L803.23 238.86L802.73 240.33L802.73 241.31L803.23 242.78L804.24 243.76L805.24 244.25L806.75 244.25L807.75 243.76L808.76 242.78L809.26 241.31L809.26 240.33L808.76 238.86L807.75 237.88L806.75 237.39L805.24 237.39M818.29 238.86L817.29 237.88L816.29 237.39L814.78 237.39L813.78 237.88L812.77 238.86L812.27 240.33L812.27 241.31L812.77 242.78L813.78 243.76L814.78 244.25L816.29 244.25L817.29 243.76L818.29 242.78M821.81 233.96L821.81 244.25M821.81 239.35L823.31 237.88L824.32 237.39L825.82 237.39L826.83 237.88L827.33 239.35L827.33 244.25M839.38 236.41L839.38 235.92L839.88 234.94L840.38 234.45L841.39 233.96L843.39 233.96L844.4 234.45L844.9 234.94L845.4 235.92L845.4 236.9L844.9 237.88L843.9 239.35L838.88 244.25L845.9 244.25M851.93 233.96L850.42 234.45L849.42 235.92L848.92 238.37L848.92 239.84L849.42 242.29L850.42 243.76L851.93 244.25L852.93 244.25L854.44 243.76L855.44 242.29L855.94 239.84L855.94 238.37L855.44 235.92L854.44 234.45L852.93 233.96L851.93 233.96" stroke="#00f" stroke-width="2.5"/>
<path d="M806.16 360.25L804.88 360.85L803.6 362.05L802.96 363.25L802.32 365.05L802.32 366.85L802.96 368.05L804.24 368.65L805.52 368.65L806.8 368.05L808.72 366.25L810 364.45L811.28 362.05L811.92 360.25M806.16 360.25L807.44 360.25L808.08 360.85L808.72 362.05L810 366.85L810.64 368.05L811.28 368.65L811.92 368.65M826.01 361.57L835.35 361.57M826.01 365.89L835.35 365.89M841.65 363.25L851.19 363.25M859.54 356.05L857.82 356.65L856.67 358.45L856.1 361.45L856.1 363.25L856.67 366.25L857.82 368.05L859.54 368.65L860.7 368.65L862.42 368.05L863.57 366.25L864.14 363.25L864.14 361.45L863.57 358.45L862.42 356.65L860.7 356.05L859.54 356.05M869.72 368.23L869.2 368.77L869.72 369.31L870.24 368.77L869.72 368.23M881.18 356.05L874.98 364.45L884.28 364.45M881.18 356.05L881.18 368.65M896.14 356.05L890.39 368.65M888.09 356.05L896.14 356.05M906.97 356.05L906.97 365.53M902.37 360.85L911.57 360.85M902.37 368.65L911.57 368.65M918.75 358.45L919.9 357.85L921.62 356.05L921.62 368.65M930.65 368.23L930.13 368.77L930.65 369.31L931.17 368.77L930.65 368.23M937.37 356.05L943.7 356.05L940.25 360.85L941.97 360.85L943.12 361.45L943.7 362.05L944.27 363.85L944.27 365.05L943.7 366.85L942.55 368.05L940.82 368.65L939.1 368.65L937.37 368.05L936.8 367.45L936.22 366.25M954.91 356.05L948.71 364.45L958.01 364.45M954.91 356.05L954.91 368.65" stroke="#000" stroke-width="2.4"/>
<path d="M815.27 366.24L815.27 372.75M820.73 366.24L820.73 372.75M815.27 369.34L820.73 369.34" stroke="#000" stroke-width="2.4"/>
<path d="M73.05 428.95h4.3M269.8 428.95h-4.3M73.05 482.65h4.3M269.8 482.65h-4.3M73.05 536.35h4.3M269.8 536.35h-4.3M73.05 590.3h4.3M269.8 590.3h-4.3M73.05 466.48h2.3M269.8 466.48h-2.3M73.05 457.03h2.3M269.8 457.03h-2.3M73.05 450.32h2.3M269.8 450.32h-2.3M73.05 445.12h2.3M269.8 445.12h-2.3M73.05 440.86h2.3M269.8 440.86h-2.3M73.05 437.27h2.3M269.8 437.27h-2.3M73.05 434.15h2.3M269.8 434.15h-2.3M73.05 431.41h2.3M269.8 431.41h-2.3M73.05 520.18h2.3M269.8 520.18h-2.3M73.05 510.73h2.3M269.8 510.73h-2.3M73.05 504.02h2.3M269.8 504.02h-2.3M73.05 498.82h2.3M269.8 498.82h-2.3M73.05 494.56h2.3M269.8 494.56h-2.3M73.05 490.97h2.3M269.8 490.97h-2.3M73.05 487.85h2.3M269.8 487.85h-2.3M73.05 485.11h2.3M269.8 485.11h-2.3M73.05 573.88h2.3M269.8 573.88h-2.3M73.05 564.43h2.3M269.8 564.43h-2.3M73.05 557.72h2.3M269.8 557.72h-2.3M73.05 552.52h2.3M269.8 552.52h-2.3M73.05 548.26h2.3M269.8 548.26h-2.3M73.05 544.67h2.3M269.8 544.67h-2.3M73.05 541.55h2.3M269.8 541.55h-2.3M73.05 538.81h2.3M269.8 538.81h-2.3M171.43 412.9v4.3M171.43 590.3v-4.3M102.66 412.9v2.3M102.66 590.3v-2.3M119.99 412.9v2.3M119.99 590.3v-2.3M132.28 412.9v2.3M132.28 590.3v-2.3M141.81 412.9v2.3M141.81 590.3v-2.3M149.6 412.9v2.3M149.6 590.3v-2.3M156.19 412.9v2.3M156.19 590.3v-2.3M161.89 412.9v2.3M161.89 590.3v-2.3M166.92 412.9v2.3M166.92 590.3v-2.3M201.04 412.9v2.3M201.04 590.3v-2.3M218.36 412.9v2.3M218.36 590.3v-2.3M230.65 412.9v2.3M230.65 590.3v-2.3M240.19 412.9v2.3M240.19 590.3v-2.3M247.98 412.9v2.3M247.98 590.3v-2.3M254.56 412.9v2.3M254.56 590.3v-2.3M260.27 412.9v2.3M260.27 590.3v-2.3M265.3 412.9v2.3M265.3 590.3v-2.3" stroke="#000" stroke-width="2.0" stroke-linecap="butt"/>
<rect x="73.05" y="412.9" width="196.75" height="177.4" stroke="#000" stroke-width="2.3" stroke-linejoin="round"/>
<g clip-path="url(#c8)">
<line x1="71.9" y1="482.48" x2="269.75" y2="503" stroke="#f00" stroke-width="2.1" stroke-dasharray="11.4 10.2" stroke-dashoffset="-0.56" stroke-linecap="butt"/>
</g>
<path d="M142 479V483M139.1 479H144.9M139.1 483H144.9M153.9 493.6V494.8M151 493.6H156.8M151 494.8H156.8M164.6 487.5V490.1M161.7 487.5H167.5M161.7 490.1H167.5M169.4 490.3V491.5M166.5 490.3H172.3M166.5 491.5H172.3M181.3 497.1V498.3M178.4 497.1H184.2M178.4 498.3H184.2M191.4 494.4V495.6M188.5 494.4H194.3M188.5 495.6H194.3M201 496.9V498.1M198.1 496.9H203.9M198.1 498.1H203.9M211.5 495.8V497M208.6 495.8H214.4M208.6 497H214.4M216.5 495.8V497M213.6 495.8H219.4M213.6 497H219.4M221.8 496.4V497.6M218.9 496.4H224.7M218.9 497.6H224.7" stroke="#000" stroke-width="2.0" stroke-linecap="butt"/>
<g fill="#000" stroke="none"><circle cx="142" cy="481" r="2.4"/><circle cx="153.9" cy="494.2" r="2.4"/><circle cx="164.6" cy="488.8" r="2.4"/><circle cx="169.4" cy="490.9" r="2.4"/><circle cx="181.3" cy="497.7" r="2.4"/><circle cx="191.4" cy="495" r="2.4"/><circle cx="201" cy="497.5" r="2.4"/><circle cx="211.5" cy="496.4" r="2.4"/><circle cx="216.5" cy="496.4" r="2.4"/><circle cx="221.8" cy="497" r="2.4"/></g>
<path d="M85.71 420.96L85.71 431.25M85.71 420.96L89.22 420.96L90.73 421.45L91.73 422.43L92.23 423.41L92.74 424.88L92.74 427.33L92.23 428.8L91.73 429.78L90.73 430.76L89.22 431.25L85.71 431.25M101.77 424.39L101.77 431.25M101.77 425.86L100.77 424.88L99.76 424.39L98.26 424.39L97.25 424.88L96.25 425.86L95.75 427.33L95.75 428.31L96.25 429.78L97.25 430.76L98.26 431.25L99.76 431.25L100.77 430.76L101.77 429.78M104.78 424.39L107.8 431.25M110.81 424.39L107.8 431.25L106.79 433.21L105.79 434.19L104.78 434.68L104.28 434.68M127.88 424.39L127.37 425.86L126.37 426.84L124.86 427.33L124.36 427.33L122.86 426.84L121.85 425.86L121.35 424.39L121.35 423.9L121.85 422.43L122.86 421.45L124.36 420.96L124.86 420.96L126.37 421.45L127.37 422.43L127.88 424.39L127.88 426.84L127.37 429.29L126.37 430.76L124.86 431.25L123.86 431.25L122.35 430.76L121.85 429.78M131.89 423.41L131.89 422.92L132.39 421.94L132.9 421.45L133.9 420.96L135.91 420.96L136.91 421.45L137.41 421.94L137.92 422.92L137.92 423.9L137.41 424.88L136.41 426.35L131.39 431.25L138.42 431.25M143.94 420.96L142.43 421.45L141.93 422.43L141.93 423.41L142.43 424.39L143.44 424.88L145.45 425.37L146.95 425.86L147.96 426.84L148.46 427.82L148.46 429.29L147.96 430.27L147.45 430.76L145.95 431.25L143.94 431.25L142.43 430.76L141.93 430.27L141.43 429.29L141.43 427.82L141.93 426.84L142.94 425.86L144.44 425.37L146.45 424.88L147.45 424.39L147.96 423.41L147.96 422.43L147.45 421.45L145.95 420.96L143.94 420.96" stroke="#000" stroke-width="2.5"/>
<path d="M85.71 440.11L85.71 450.4M85.71 440.11L92.23 440.11M85.71 445.01L89.72 445.01M85.71 450.4L92.23 450.4M95.25 443.54L95.25 453.83M95.25 445.01L96.25 444.03L97.25 443.54L98.76 443.54L99.76 444.03L100.77 445.01L101.27 446.48L101.27 447.46L100.77 448.93L99.76 449.91L98.76 450.4L97.25 450.4L96.25 449.91L95.25 448.93M106.79 443.54L105.79 444.03L104.78 445.01L104.28 446.48L104.28 447.46L104.78 448.93L105.79 449.91L106.79 450.4L108.3 450.4L109.3 449.91L110.31 448.93L110.81 447.46L110.81 446.48L110.31 445.01L109.3 444.03L108.3 443.54L106.79 443.54M119.84 445.01L118.84 444.03L117.84 443.54L116.33 443.54L115.33 444.03L114.32 445.01L113.82 446.48L113.82 447.46L114.32 448.93L115.33 449.91L116.33 450.4L117.84 450.4L118.84 449.91L119.84 448.93M123.36 440.11L123.36 450.4M123.36 445.5L124.86 444.03L125.87 443.54L127.37 443.54L128.38 444.03L128.88 445.5L128.88 450.4M140.93 442.56L140.93 442.07L141.43 441.09L141.93 440.6L142.94 440.11L144.94 440.11L145.95 440.6L146.45 441.09L146.95 442.07L146.95 443.05L146.45 444.03L145.45 445.5L140.43 450.4L147.45 450.4M151.97 442.07L152.98 441.58L154.48 440.11L154.48 450.4" stroke="#00f" stroke-width="2.5"/>
<path d="M107.71 565.8L106.43 566.4L105.15 567.6L104.51 568.8L103.87 570.6L103.87 572.4L104.51 573.6L105.79 574.2L107.07 574.2L108.35 573.6L110.27 571.8L111.55 570L112.83 567.6L113.47 565.8M107.71 565.8L108.99 565.8L109.63 566.4L110.27 567.6L111.55 572.4L112.19 573.6L112.83 574.2L113.47 574.2M127.56 567.12L136.9 567.12M127.56 571.44L136.9 571.44M143.2 568.8L152.74 568.8M161.1 561.6L159.37 562.2L158.22 564L157.65 567L157.65 568.8L158.22 571.8L159.37 573.6L161.1 574.2L162.25 574.2L163.97 573.6L165.12 571.8L165.7 568.8L165.7 567L165.12 564L163.97 562.2L162.25 561.6L161.1 561.6M171.27 573.78L170.75 574.32L171.27 574.86L171.79 574.32L171.27 573.78M178.57 564L179.72 563.4L181.45 561.6L181.45 574.2M197.39 565.8L196.77 567.6L195.53 568.8L193.67 569.4L193.05 569.4L191.19 568.8L189.95 567.6L189.33 565.8L189.33 565.2L189.95 563.4L191.19 562.2L193.05 561.6L193.67 561.6L195.53 562.2L196.77 563.4L197.39 565.8L197.39 568.8L196.77 571.8L195.53 573.6L193.67 574.2L192.43 574.2L190.57 573.6L189.95 572.4M208.52 561.6L208.52 571.08M203.92 566.4L213.12 566.4M203.92 574.2L213.12 574.2M222.02 561.6L220.3 562.2L219.15 564L218.57 567L218.57 568.8L219.15 571.8L220.3 573.6L222.02 574.2L223.17 574.2L224.9 573.6L226.05 571.8L226.62 568.8L226.62 567L226.05 564L224.9 562.2L223.17 561.6L222.02 561.6M232.2 573.78L231.68 574.32L232.2 574.86L232.72 574.32L232.2 573.78M241.22 561.6L239.5 562.2L238.35 564L237.77 567L237.77 568.8L238.35 571.8L239.5 573.6L241.22 574.2L242.37 574.2L244.1 573.6L245.25 571.8L245.82 568.8L245.82 567L245.25 564L244.1 562.2L242.37 561.6L241.22 561.6M257.47 561.6L251.72 561.6L251.15 567L251.72 566.4L253.45 565.8L255.17 565.8L256.9 566.4L258.05 567.6L258.62 569.4L258.62 570.6L258.05 572.4L256.9 573.6L255.17 574.2L253.45 574.2L251.72 573.6L251.15 573L250.57 571.8" stroke="#000" stroke-width="2.4"/>
<path d="M116.82 571.79L116.82 578.3M122.28 571.79L122.28 578.3M116.82 574.89L122.28 574.89" stroke="#000" stroke-width="2.4"/>
<path d="M28.55 426.61L29.46 426.18L30.82 424.9L30.82 433.85M39.34 424.9L37.97 425.33L37.06 426.61L36.6 428.74L36.6 430.02L37.06 432.15L37.97 433.42L39.34 433.85L40.24 433.85L41.61 433.42L42.52 432.15L42.98 430.02L42.98 428.74L42.52 426.61L41.61 425.33L40.24 424.9L39.34 424.9M46.85 433.55L46.45 433.94L46.85 434.32L47.26 433.94L46.85 433.55M53.47 424.9L52.1 425.33L51.19 426.61L50.73 428.74L50.73 430.02L51.19 432.15L52.1 433.42L53.47 433.85L54.38 433.85L55.74 433.42L56.65 432.15L57.11 430.02L57.11 428.74L56.65 426.61L55.74 425.33L54.38 424.9L53.47 424.9M62.89 424.9L61.52 425.33L60.61 426.61L60.16 428.74L60.16 430.02L60.61 432.15L61.52 433.42L62.89 433.85L63.8 433.85L65.16 433.42L66.07 432.15L66.53 430.02L66.53 428.74L66.07 426.61L65.16 425.33L63.8 424.9L62.89 424.9" stroke="#000" stroke-width="2.2"/>
<path d="M37.97 480.31L38.88 479.88L40.24 478.6L40.24 487.55M46.85 487.25L46.45 487.64L46.85 488.02L47.26 487.64L46.85 487.25M53.47 478.6L52.1 479.03L51.19 480.31L50.73 482.44L50.73 483.72L51.19 485.85L52.1 487.12L53.47 487.55L54.38 487.55L55.74 487.12L56.65 485.85L57.11 483.72L57.11 482.44L56.65 480.31L55.74 479.03L54.38 478.6L53.47 478.6M62.89 478.6L61.52 479.03L60.61 480.31L60.16 482.44L60.16 483.72L60.61 485.85L61.52 487.12L62.89 487.55L63.8 487.55L65.16 487.12L66.07 485.85L66.53 483.72L66.53 482.44L66.07 480.31L65.16 479.03L63.8 478.6L62.89 478.6" stroke="#000" stroke-width="2.2"/>
<path d="M39.34 532.3L37.97 532.73L37.06 534.01L36.6 536.14L36.6 537.42L37.06 539.55L37.97 540.82L39.34 541.25L40.24 541.25L41.61 540.82L42.52 539.55L42.98 537.42L42.98 536.14L42.52 534.01L41.61 532.73L40.24 532.3L39.34 532.3M46.85 540.95L46.45 541.34L46.85 541.72L47.26 541.34L46.85 540.95M52.1 534.01L53.01 533.58L54.38 532.3L54.38 541.25M62.89 532.3L61.52 532.73L60.61 534.01L60.16 536.14L60.16 537.42L60.61 539.55L61.52 540.82L62.89 541.25L63.8 541.25L65.16 540.82L66.07 539.55L66.53 537.42L66.53 536.14L66.07 534.01L65.16 532.73L63.8 532.3L62.89 532.3" stroke="#000" stroke-width="2.2"/>
<path d="M39.34 580.75L37.97 581.18L37.06 582.46L36.6 584.59L36.6 585.87L37.06 588L37.97 589.27L39.34 589.7L40.24 589.7L41.61 589.27L42.52 588L42.98 585.87L42.98 584.59L42.52 582.46L41.61 581.18L40.24 580.75L39.34 580.75M46.85 589.4L46.45 589.79L46.85 590.17L47.26 589.79L46.85 589.4M53.47 580.75L52.1 581.18L51.19 582.46L50.73 584.59L50.73 585.87L51.19 588L52.1 589.27L53.47 589.7L54.38 589.7L55.74 589.27L56.65 588L57.11 585.87L57.11 584.59L56.65 582.46L55.74 581.18L54.38 580.75L53.47 580.75M61.52 582.46L62.43 582.03L63.8 580.75L63.8 589.7" stroke="#000" stroke-width="2.2"/>
<path d="M71.23 604.06L72.14 603.63L73.5 602.35L73.5 611.3" stroke="#000" stroke-width="2.2"/>
<path d="M164.9 604.06L165.81 603.63L167.17 602.35L167.17 611.3M175.68 602.35L174.32 602.78L173.41 604.06L172.95 606.19L172.95 607.47L173.41 609.6L174.32 610.87L175.68 611.3L176.59 611.3L177.96 610.87L178.87 609.6L179.32 607.47L179.32 606.19L178.87 604.06L177.96 602.78L176.59 602.35L175.68 602.35" stroke="#000" stroke-width="2.2"/>
<path d="M258.56 604.06L259.47 603.63L260.83 602.35L260.83 611.3M269.35 602.35L267.98 602.78L267.07 604.06L266.62 606.19L266.62 607.47L267.07 609.6L267.98 610.87L269.35 611.3L270.25 611.3L271.62 610.87L272.53 609.6L272.99 607.47L272.99 606.19L272.53 604.06L271.62 602.78L270.25 602.35L269.35 602.35M278.77 602.35L277.4 602.78L276.49 604.06L276.04 606.19L276.04 607.47L276.49 609.6L277.4 610.87L278.77 611.3L279.68 611.3L281.04 610.87L281.95 609.6L282.41 607.47L282.41 606.19L281.95 604.06L281.04 602.78L279.68 602.35L278.77 602.35" stroke="#000" stroke-width="2.2"/>
<path d="M305.9 428.95h4.3M502.8 428.95h-4.3M305.9 482.65h4.3M502.8 482.65h-4.3M305.9 536.35h4.3M502.8 536.35h-4.3M305.9 590.3h4.3M502.8 590.3h-4.3M305.9 466.48h2.3M502.8 466.48h-2.3M305.9 457.03h2.3M502.8 457.03h-2.3M305.9 450.32h2.3M502.8 450.32h-2.3M305.9 445.12h2.3M502.8 445.12h-2.3M305.9 440.86h2.3M502.8 440.86h-2.3M305.9 437.27h2.3M502.8 437.27h-2.3M305.9 434.15h2.3M502.8 434.15h-2.3M305.9 431.41h2.3M502.8 431.41h-2.3M305.9 520.18h2.3M502.8 520.18h-2.3M305.9 510.73h2.3M502.8 510.73h-2.3M305.9 504.02h2.3M502.8 504.02h-2.3M305.9 498.82h2.3M502.8 498.82h-2.3M305.9 494.56h2.3M502.8 494.56h-2.3M305.9 490.97h2.3M502.8 490.97h-2.3M305.9 487.85h2.3M502.8 487.85h-2.3M305.9 485.11h2.3M502.8 485.11h-2.3M305.9 573.88h2.3M502.8 573.88h-2.3M305.9 564.43h2.3M502.8 564.43h-2.3M305.9 557.72h2.3M502.8 557.72h-2.3M305.9 552.52h2.3M502.8 552.52h-2.3M305.9 548.26h2.3M502.8 548.26h-2.3M305.9 544.67h2.3M502.8 544.67h-2.3M305.9 541.55h2.3M502.8 541.55h-2.3M305.9 538.81h2.3M502.8 538.81h-2.3M404.35 412.9v4.3M404.35 590.3v-4.3M335.54 412.9v2.3M335.54 590.3v-2.3M352.87 412.9v2.3M352.87 590.3v-2.3M365.17 412.9v2.3M365.17 590.3v-2.3M374.71 412.9v2.3M374.71 590.3v-2.3M382.51 412.9v2.3M382.51 590.3v-2.3M389.1 412.9v2.3M389.1 590.3v-2.3M394.81 412.9v2.3M394.81 590.3v-2.3M399.85 412.9v2.3M399.85 590.3v-2.3M433.99 412.9v2.3M433.99 590.3v-2.3M451.32 412.9v2.3M451.32 590.3v-2.3M463.62 412.9v2.3M463.62 590.3v-2.3M473.16 412.9v2.3M473.16 590.3v-2.3M480.96 412.9v2.3M480.96 590.3v-2.3M487.55 412.9v2.3M487.55 590.3v-2.3M493.26 412.9v2.3M493.26 590.3v-2.3M498.3 412.9v2.3M498.3 590.3v-2.3" stroke="#000" stroke-width="2.0" stroke-linecap="butt"/>
<rect x="305.9" y="412.9" width="196.9" height="177.4" stroke="#000" stroke-width="2.3" stroke-linejoin="round"/>
<g clip-path="url(#c9)">
<line x1="304.7" y1="496.94" x2="502.55" y2="507.7" stroke="#f00" stroke-width="2.1" stroke-dasharray="11.4 10.2" stroke-dashoffset="-0.55" stroke-linecap="butt"/>
</g>
<path d="M374.6 502V503.2M371.7 502H377.5M371.7 503.2H377.5M387.8 499.1V500.3M384.9 499.1H390.7M384.9 500.3H390.7M397.2 501.6V502.8M394.3 501.6H400.1M394.3 502.8H400.1M402 501V502.2M399.1 501H404.9M399.1 502.2H404.9M414.1 502V503.2M411.2 502H417M411.2 503.2H417M424.4 502.6V503.8M421.5 502.6H427.3M421.5 503.8H427.3M434.1 494.5V502.5M431.2 494.5H437M431.2 502.5H437M444.4 506.9V512.3M441.5 506.9H447.3M441.5 512.3H447.3M449.1 502.6V507.6M446.2 502.6H452M446.2 507.6H452M454.6 505.4V511M451.7 505.4H457.5M451.7 511H457.5" stroke="#000" stroke-width="2.0" stroke-linecap="butt"/>
<g fill="#000" stroke="none"><circle cx="374.6" cy="502.6" r="2.4"/><circle cx="387.8" cy="499.7" r="2.4"/><circle cx="397.2" cy="502.2" r="2.4"/><circle cx="402" cy="501.6" r="2.4"/><circle cx="414.1" cy="502.6" r="2.4"/><circle cx="424.4" cy="503.2" r="2.4"/><circle cx="434.1" cy="498.5" r="2.4"/><circle cx="444.4" cy="509.6" r="2.4"/><circle cx="449.1" cy="505.1" r="2.4"/><circle cx="454.6" cy="508.2" r="2.4"/></g>
<path d="M318.56 420.96L318.56 431.25M318.56 420.96L322.07 420.96L323.58 421.45L324.58 422.43L325.08 423.41L325.59 424.88L325.59 427.33L325.08 428.8L324.58 429.78L323.58 430.76L322.07 431.25L318.56 431.25M334.62 424.39L334.62 431.25M334.62 425.86L333.62 424.88L332.61 424.39L331.11 424.39L330.1 424.88L329.1 425.86L328.6 427.33L328.6 428.31L329.1 429.78L330.1 430.76L331.11 431.25L332.61 431.25L333.62 430.76L334.62 429.78M337.63 424.39L340.65 431.25M343.66 424.39L340.65 431.25L339.64 433.21L338.64 434.19L337.63 434.68L337.13 434.68M355.71 422.92L356.71 422.43L358.22 420.96L358.22 431.25M367.25 420.96L365.75 421.45L364.74 422.92L364.24 425.37L364.24 426.84L364.74 429.29L365.75 430.76L367.25 431.25L368.26 431.25L369.76 430.76L370.77 429.29L371.27 426.84L371.27 425.37L370.77 422.92L369.76 421.45L368.26 420.96L367.25 420.96M376.79 420.96L375.28 421.45L374.78 422.43L374.78 423.41L375.28 424.39L376.29 424.88L378.3 425.37L379.8 425.86L380.81 426.84L381.31 427.82L381.31 429.29L380.81 430.27L380.3 430.76L378.8 431.25L376.79 431.25L375.28 430.76L374.78 430.27L374.28 429.29L374.28 427.82L374.78 426.84L375.79 425.86L377.29 425.37L379.3 424.88L380.3 424.39L380.81 423.41L380.81 422.43L380.3 421.45L378.8 420.96L376.79 420.96M389.34 420.96L384.32 427.82L391.85 427.82M389.34 420.96L389.34 431.25" stroke="#000" stroke-width="2.5"/>
<path d="M318.56 440.11L318.56 450.4M318.56 440.11L325.08 440.11M318.56 445.01L322.57 445.01M318.56 450.4L325.08 450.4M328.1 443.54L328.1 453.83M328.1 445.01L329.1 444.03L330.1 443.54L331.61 443.54L332.61 444.03L333.62 445.01L334.12 446.48L334.12 447.46L333.62 448.93L332.61 449.91L331.61 450.4L330.1 450.4L329.1 449.91L328.1 448.93M339.64 443.54L338.64 444.03L337.63 445.01L337.13 446.48L337.13 447.46L337.63 448.93L338.64 449.91L339.64 450.4L341.15 450.4L342.15 449.91L343.16 448.93L343.66 447.46L343.66 446.48L343.16 445.01L342.15 444.03L341.15 443.54L339.64 443.54M352.69 445.01L351.69 444.03L350.69 443.54L349.18 443.54L348.18 444.03L347.17 445.01L346.67 446.48L346.67 447.46L347.17 448.93L348.18 449.91L349.18 450.4L350.69 450.4L351.69 449.91L352.69 448.93M356.21 440.11L356.21 450.4M356.21 445.5L357.71 444.03L358.72 443.54L360.22 443.54L361.23 444.03L361.73 445.5L361.73 450.4M373.78 442.56L373.78 442.07L374.28 441.09L374.78 440.6L375.79 440.11L377.79 440.11L378.8 440.6L379.3 441.09L379.8 442.07L379.8 443.05L379.3 444.03L378.3 445.5L373.28 450.4L380.3 450.4M383.82 442.56L383.82 442.07L384.32 441.09L384.82 440.6L385.83 440.11L387.83 440.11L388.84 440.6L389.34 441.09L389.84 442.07L389.84 443.05L389.34 444.03L388.34 445.5L383.32 450.4L390.34 450.4" stroke="#00f" stroke-width="2.5"/>
<path d="M340.56 565.8L339.28 566.4L338 567.6L337.36 568.8L336.72 570.6L336.72 572.4L337.36 573.6L338.64 574.2L339.92 574.2L341.2 573.6L343.12 571.8L344.4 570L345.68 567.6L346.32 565.8M340.56 565.8L341.84 565.8L342.48 566.4L343.12 567.6L344.4 572.4L345.04 573.6L345.68 574.2L346.32 574.2M360.41 567.12L369.75 567.12M360.41 571.44L369.75 571.44M376.05 568.8L385.59 568.8M393.94 561.6L392.22 562.2L391.07 564L390.49 567L390.49 568.8L391.07 571.8L392.22 573.6L393.94 574.2L395.09 574.2L396.82 573.6L397.97 571.8L398.54 568.8L398.54 567L397.97 564L396.82 562.2L395.09 561.6L393.94 561.6M404.12 573.78L403.6 574.32L404.12 574.86L404.64 574.32L404.12 573.78M411.42 564L412.57 563.4L414.29 561.6L414.29 574.2M425.94 561.6L424.22 562.2L423.07 564L422.49 567L422.49 568.8L423.07 571.8L424.22 573.6L425.94 574.2L427.09 574.2L428.82 573.6L429.97 571.8L430.54 568.8L430.54 567L429.97 564L428.82 562.2L427.09 561.6L425.94 561.6M441.37 561.6L441.37 571.08M436.77 566.4L445.97 566.4M436.77 574.2L445.97 574.2M454.87 561.6L453.15 562.2L452 564L451.42 567L451.42 568.8L452 571.8L453.15 573.6L454.87 574.2L456.02 574.2L457.75 573.6L458.9 571.8L459.47 568.8L459.47 567L458.9 564L457.75 562.2L456.02 561.6L454.87 561.6M465.05 573.78L464.53 574.32L465.05 574.86L465.57 574.32L465.05 573.78M474.07 561.6L472.35 562.2L471.2 564L470.62 567L470.62 568.8L471.2 571.8L472.35 573.6L474.07 574.2L475.22 574.2L476.95 573.6L478.1 571.8L478.67 568.8L478.67 567L478.1 564L476.95 562.2L475.22 561.6L474.07 561.6M489.31 561.6L483.11 570L492.41 570M489.31 561.6L489.31 574.2" stroke="#000" stroke-width="2.4"/>
<path d="M349.67 571.79L349.67 578.3M355.13 571.79L355.13 578.3M349.67 574.89L355.13 574.89" stroke="#000" stroke-width="2.4"/>
<path d="M304.08 604.06L304.99 603.63L306.35 602.35L306.35 611.3" stroke="#000" stroke-width="2.2"/>
<path d="M397.82 604.06L398.73 603.63L400.09 602.35L400.09 611.3M408.61 602.35L407.24 602.78L406.33 604.06L405.88 606.19L405.88 607.47L406.33 609.6L407.24 610.87L408.61 611.3L409.51 611.3L410.88 610.87L411.79 609.6L412.25 607.47L412.25 606.19L411.79 604.06L410.88 602.78L409.51 602.35L408.61 602.35" stroke="#000" stroke-width="2.2"/>
<path d="M491.56 604.06L492.47 603.63L493.83 602.35L493.83 611.3M502.35 602.35L500.98 602.78L500.07 604.06L499.62 606.19L499.62 607.47L500.07 609.6L500.98 610.87L502.35 611.3L503.25 611.3L504.62 610.87L505.53 609.6L505.99 607.47L505.99 606.19L505.53 604.06L504.62 602.78L503.25 602.35L502.35 602.35M511.77 602.35L510.4 602.78L509.49 604.06L509.04 606.19L509.04 607.47L509.49 609.6L510.4 610.87L511.77 611.3L512.68 611.3L514.04 610.87L514.95 609.6L515.4 607.47L515.4 606.19L514.95 604.06L514.04 602.78L512.68 602.35L511.77 602.35" stroke="#000" stroke-width="2.2"/>
<path d="M538.65 428.95h4.3M735.85 428.95h-4.3M538.65 482.65h4.3M735.85 482.65h-4.3M538.65 536.35h4.3M735.85 536.35h-4.3M538.65 590.3h4.3M735.85 590.3h-4.3M538.65 466.48h2.3M735.85 466.48h-2.3M538.65 457.03h2.3M735.85 457.03h-2.3M538.65 450.32h2.3M735.85 450.32h-2.3M538.65 445.12h2.3M735.85 445.12h-2.3M538.65 440.86h2.3M735.85 440.86h-2.3M538.65 437.27h2.3M735.85 437.27h-2.3M538.65 434.15h2.3M735.85 434.15h-2.3M538.65 431.41h2.3M735.85 431.41h-2.3M538.65 520.18h2.3M735.85 520.18h-2.3M538.65 510.73h2.3M735.85 510.73h-2.3M538.65 504.02h2.3M735.85 504.02h-2.3M538.65 498.82h2.3M735.85 498.82h-2.3M538.65 494.56h2.3M735.85 494.56h-2.3M538.65 490.97h2.3M735.85 490.97h-2.3M538.65 487.85h2.3M735.85 487.85h-2.3M538.65 485.11h2.3M735.85 485.11h-2.3M538.65 573.88h2.3M735.85 573.88h-2.3M538.65 564.43h2.3M735.85 564.43h-2.3M538.65 557.72h2.3M735.85 557.72h-2.3M538.65 552.52h2.3M735.85 552.52h-2.3M538.65 548.26h2.3M735.85 548.26h-2.3M538.65 544.67h2.3M735.85 544.67h-2.3M538.65 541.55h2.3M735.85 541.55h-2.3M538.65 538.81h2.3M735.85 538.81h-2.3M637.25 412.9v4.3M637.25 590.3v-4.3M568.33 412.9v2.3M568.33 590.3v-2.3M585.69 412.9v2.3M585.69 590.3v-2.3M598.01 412.9v2.3M598.01 590.3v-2.3M607.57 412.9v2.3M607.57 590.3v-2.3M615.38 412.9v2.3M615.38 590.3v-2.3M621.98 412.9v2.3M621.98 590.3v-2.3M627.69 412.9v2.3M627.69 590.3v-2.3M632.74 412.9v2.3M632.74 590.3v-2.3M666.93 412.9v2.3M666.93 590.3v-2.3M684.29 412.9v2.3M684.29 590.3v-2.3M696.61 412.9v2.3M696.61 590.3v-2.3M706.17 412.9v2.3M706.17 590.3v-2.3M713.98 412.9v2.3M713.98 590.3v-2.3M720.58 412.9v2.3M720.58 590.3v-2.3M726.29 412.9v2.3M726.29 590.3v-2.3M731.34 412.9v2.3M731.34 590.3v-2.3" stroke="#000" stroke-width="2.0" stroke-linecap="butt"/>
<rect x="538.65" y="412.9" width="197.2" height="177.4" stroke="#000" stroke-width="2.3" stroke-linejoin="round"/>
<g clip-path="url(#c10)">
<line x1="537.5" y1="505.65" x2="735.35" y2="514.3" stroke="#f00" stroke-width="2.1" stroke-dasharray="11.4 10.2" stroke-dashoffset="-0.55" stroke-linecap="butt"/>
</g>
<path d="M577.8 501.2V505.6M574.9 501.2H580.7M574.9 505.6H580.7M589.7 514.1V516.7M586.8 514.1H592.6M586.8 516.7H592.6M630 500.9V506.7M627.1 500.9H632.9M627.1 506.7H632.9M635.2 507.6V508.8M632.3 507.6H638.1M632.3 508.8H638.1M681.9 514.2V519.4M679 514.2H684.8M679 519.4H684.8M687.6 519.4V524.4M684.7 519.4H690.5M684.7 524.4H690.5" stroke="#000" stroke-width="2.0" stroke-linecap="butt"/>
<g fill="#000" stroke="none"><circle cx="577.8" cy="503.4" r="2.4"/><circle cx="589.7" cy="515.4" r="2.4"/><circle cx="630" cy="503.8" r="2.4"/><circle cx="635.2" cy="508.2" r="2.4"/><circle cx="681.9" cy="516.8" r="2.4"/><circle cx="687.6" cy="521.9" r="2.4"/></g>
<path d="M551.31 420.96L551.31 431.25M551.31 420.96L554.82 420.96L556.33 421.45L557.33 422.43L557.83 423.41L558.34 424.88L558.34 427.33L557.83 428.8L557.33 429.78L556.33 430.76L554.82 431.25L551.31 431.25M567.37 424.39L567.37 431.25M567.37 425.86L566.37 424.88L565.36 424.39L563.86 424.39L562.85 424.88L561.85 425.86L561.35 427.33L561.35 428.31L561.85 429.78L562.85 430.76L563.86 431.25L565.36 431.25L566.37 430.76L567.37 429.78M570.38 424.39L573.4 431.25M576.41 424.39L573.4 431.25L572.39 433.21L571.39 434.19L570.38 434.68L569.88 434.68M588.46 422.92L589.46 422.43L590.97 420.96L590.97 431.25M598.5 422.92L599.5 422.43L601.01 420.96L601.01 431.25M614.06 420.96L609.04 431.25M607.03 420.96L614.06 420.96M623.6 422.43L623.09 421.45L621.59 420.96L620.58 420.96L619.08 421.45L618.07 422.92L617.57 425.37L617.57 427.82L618.07 429.78L619.08 430.76L620.58 431.25L621.09 431.25L622.59 430.76L623.6 429.78L624.1 428.31L624.1 427.82L623.6 426.35L622.59 425.37L621.09 424.88L620.58 424.88L619.08 425.37L618.07 426.35L617.57 427.82" stroke="#000" stroke-width="2.5"/>
<path d="M551.31 440.11L551.31 450.4M551.31 440.11L557.83 440.11M551.31 445.01L555.32 445.01M551.31 450.4L557.83 450.4M560.85 443.54L560.85 453.83M560.85 445.01L561.85 444.03L562.85 443.54L564.36 443.54L565.36 444.03L566.37 445.01L566.87 446.48L566.87 447.46L566.37 448.93L565.36 449.91L564.36 450.4L562.85 450.4L561.85 449.91L560.85 448.93M572.39 443.54L571.39 444.03L570.38 445.01L569.88 446.48L569.88 447.46L570.38 448.93L571.39 449.91L572.39 450.4L573.9 450.4L574.9 449.91L575.91 448.93L576.41 447.46L576.41 446.48L575.91 445.01L574.9 444.03L573.9 443.54L572.39 443.54M585.44 445.01L584.44 444.03L583.44 443.54L581.93 443.54L580.93 444.03L579.92 445.01L579.42 446.48L579.42 447.46L579.92 448.93L580.93 449.91L581.93 450.4L583.44 450.4L584.44 449.91L585.44 448.93M588.96 440.11L588.96 450.4M588.96 445.5L590.46 444.03L591.47 443.54L592.97 443.54L593.98 444.03L594.48 445.5L594.48 450.4M606.53 442.56L606.53 442.07L607.03 441.09L607.53 440.6L608.54 440.11L610.54 440.11L611.55 440.6L612.05 441.09L612.55 442.07L612.55 443.05L612.05 444.03L611.05 445.5L606.03 450.4L613.05 450.4M617.07 440.11L622.59 440.11L619.58 444.03L621.09 444.03L622.09 444.52L622.59 445.01L623.09 446.48L623.09 447.46L622.59 448.93L621.59 449.91L620.08 450.4L618.58 450.4L617.07 449.91L616.57 449.42L616.07 448.44" stroke="#00f" stroke-width="2.5"/>
<path d="M573.31 565.8L572.03 566.4L570.75 567.6L570.11 568.8L569.47 570.6L569.47 572.4L570.11 573.6L571.39 574.2L572.67 574.2L573.95 573.6L575.87 571.8L577.15 570L578.43 567.6L579.07 565.8M573.31 565.8L574.59 565.8L575.23 566.4L575.87 567.6L577.15 572.4L577.79 573.6L578.43 574.2L579.07 574.2M593.16 567.12L602.5 567.12M593.16 571.44L602.5 571.44M608.8 568.8L618.34 568.8M626.69 561.6L624.97 562.2L623.82 564L623.25 567L623.25 568.8L623.82 571.8L624.97 573.6L626.69 574.2L627.85 574.2L629.57 573.6L630.72 571.8L631.29 568.8L631.29 567L630.72 564L629.57 562.2L627.85 561.6L626.69 561.6M636.87 573.78L636.35 574.32L636.87 574.86L637.39 574.32L636.87 573.78M645.89 561.6L644.17 562.2L643.02 564L642.44 567L642.44 568.8L643.02 571.8L644.17 573.6L645.89 574.2L647.04 574.2L648.77 573.6L649.92 571.8L650.49 568.8L650.49 567L649.92 564L648.77 562.2L647.04 561.6L645.89 561.6M658.12 561.6L656.39 562.2L655.82 563.4L655.82 564.6L656.39 565.8L657.54 566.4L659.84 567L661.57 567.6L662.72 568.8L663.29 570L663.29 571.8L662.72 573L662.14 573.6L660.42 574.2L658.12 574.2L656.39 573.6L655.82 573L655.24 571.8L655.24 570L655.82 568.8L656.97 567.6L658.69 567L660.99 566.4L662.14 565.8L662.72 564.6L662.72 563.4L662.14 562.2L660.42 561.6L658.12 561.6M674.12 561.6L674.12 571.08M669.52 566.4L678.72 566.4M669.52 574.2L678.72 574.2M687.62 561.6L685.9 562.2L684.75 564L684.17 567L684.17 568.8L684.75 571.8L685.9 573.6L687.62 574.2L688.77 574.2L690.5 573.6L691.65 571.8L692.22 568.8L692.22 567L691.65 564L690.5 562.2L688.77 561.6L687.62 561.6M697.8 573.78L697.28 574.32L697.8 574.86L698.32 574.32L697.8 573.78M706.82 561.6L705.1 562.2L703.95 564L703.37 567L703.37 568.8L703.95 571.8L705.1 573.6L706.82 574.2L707.97 574.2L709.7 573.6L710.85 571.8L711.42 568.8L711.42 567L710.85 564L709.7 562.2L707.97 561.6L706.82 561.6M717.32 561.6L723.65 561.6L720.2 566.4L721.92 566.4L723.07 567L723.65 567.6L724.22 569.4L724.22 570.6L723.65 572.4L722.5 573.6L720.77 574.2L719.05 574.2L717.32 573.6L716.75 573L716.17 571.8" stroke="#000" stroke-width="2.4"/>
<path d="M582.42 571.79L582.42 578.3M587.88 571.79L587.88 578.3M582.42 574.89L587.88 574.89" stroke="#000" stroke-width="2.4"/>
<path d="M536.83 604.06L537.74 603.63L539.11 602.35L539.11 611.3" stroke="#000" stroke-width="2.2"/>
<path d="M630.72 604.06L631.63 603.63L633 602.35L633 611.3M641.5 602.35L640.14 602.78L639.23 604.06L638.78 606.19L638.78 607.47L639.23 609.6L640.14 610.87L641.5 611.3L642.42 611.3L643.78 610.87L644.69 609.6L645.14 607.47L645.14 606.19L644.69 604.06L643.78 602.78L642.42 602.35L641.5 602.35" stroke="#000" stroke-width="2.2"/>
<path d="M724.61 604.06L725.52 603.63L726.89 602.35L726.89 611.3M735.39 602.35L734.03 602.78L733.12 604.06L732.67 606.19L732.67 607.47L733.12 609.6L734.03 610.87L735.39 611.3L736.31 611.3L737.67 610.87L738.58 609.6L739.03 607.47L739.03 606.19L738.58 604.06L737.67 602.78L736.31 602.35L735.39 602.35M744.81 602.35L743.45 602.78L742.54 604.06L742.09 606.19L742.09 607.47L742.54 609.6L743.45 610.87L744.81 611.3L745.73 611.3L747.09 610.87L748 609.6L748.45 607.47L748.45 606.19L748 604.06L747.09 602.78L745.73 602.35L744.81 602.35" stroke="#000" stroke-width="2.2"/>
<path d="M771.5 428.95h4.3M968.65 428.95h-4.3M771.5 482.65h4.3M968.65 482.65h-4.3M771.5 536.35h4.3M968.65 536.35h-4.3M771.5 590.3h4.3M968.65 590.3h-4.3M771.5 466.48h2.3M968.65 466.48h-2.3M771.5 457.03h2.3M968.65 457.03h-2.3M771.5 450.32h2.3M968.65 450.32h-2.3M771.5 445.12h2.3M968.65 445.12h-2.3M771.5 440.86h2.3M968.65 440.86h-2.3M771.5 437.27h2.3M968.65 437.27h-2.3M771.5 434.15h2.3M968.65 434.15h-2.3M771.5 431.41h2.3M968.65 431.41h-2.3M771.5 520.18h2.3M968.65 520.18h-2.3M771.5 510.73h2.3M968.65 510.73h-2.3M771.5 504.02h2.3M968.65 504.02h-2.3M771.5 498.82h2.3M968.65 498.82h-2.3M771.5 494.56h2.3M968.65 494.56h-2.3M771.5 490.97h2.3M968.65 490.97h-2.3M771.5 487.85h2.3M968.65 487.85h-2.3M771.5 485.11h2.3M968.65 485.11h-2.3M771.5 573.88h2.3M968.65 573.88h-2.3M771.5 564.43h2.3M968.65 564.43h-2.3M771.5 557.72h2.3M968.65 557.72h-2.3M771.5 552.52h2.3M968.65 552.52h-2.3M771.5 548.26h2.3M968.65 548.26h-2.3M771.5 544.67h2.3M968.65 544.67h-2.3M771.5 541.55h2.3M968.65 541.55h-2.3M771.5 538.81h2.3M968.65 538.81h-2.3M870.08 412.9v4.3M870.08 590.3v-4.3M801.17 412.9v2.3M801.17 590.3v-2.3M818.53 412.9v2.3M818.53 590.3v-2.3M830.85 412.9v2.3M830.85 590.3v-2.3M840.4 412.9v2.3M840.4 590.3v-2.3M848.21 412.9v2.3M848.21 590.3v-2.3M854.81 412.9v2.3M854.81 590.3v-2.3M860.52 412.9v2.3M860.52 590.3v-2.3M865.56 412.9v2.3M865.56 590.3v-2.3M899.75 412.9v2.3M899.75 590.3v-2.3M917.11 412.9v2.3M917.11 590.3v-2.3M929.42 412.9v2.3M929.42 590.3v-2.3M938.98 412.9v2.3M938.98 590.3v-2.3M946.78 412.9v2.3M946.78 590.3v-2.3M953.38 412.9v2.3M953.38 590.3v-2.3M959.1 412.9v2.3M959.1 590.3v-2.3M964.14 412.9v2.3M964.14 590.3v-2.3" stroke="#000" stroke-width="2.0" stroke-linecap="butt"/>
<rect x="771.5" y="412.9" width="197.15" height="177.4" stroke="#000" stroke-width="2.3" stroke-linejoin="round"/>
<g clip-path="url(#c11)">
<line x1="770.3" y1="500.36" x2="968.15" y2="523.8" stroke="#f00" stroke-width="2.1" stroke-dasharray="11.4 10.2" stroke-dashoffset="-0.56" stroke-linecap="butt"/>
</g>
<path d="M882.6 513.4V514.4M879.7 513.4H885.5M879.7 514.4H885.5M885.8 513.4V514.4M882.9 513.4H888.7M882.9 514.4H888.7" stroke="#000" stroke-width="2.0" stroke-linecap="butt"/>
<g fill="#000" stroke="none"><circle cx="882.6" cy="513.9" r="2.4"/><circle cx="885.8" cy="513.9" r="2.4"/></g>
<path d="M784.16 420.96L784.16 431.25M784.16 420.96L787.67 420.96L789.18 421.45L790.18 422.43L790.68 423.41L791.19 424.88L791.19 427.33L790.68 428.8L790.18 429.78L789.18 430.76L787.67 431.25L784.16 431.25M800.22 424.39L800.22 431.25M800.22 425.86L799.22 424.88L798.21 424.39L796.71 424.39L795.7 424.88L794.7 425.86L794.2 427.33L794.2 428.31L794.7 429.78L795.7 430.76L796.71 431.25L798.21 431.25L799.22 430.76L800.22 429.78M803.23 424.39L806.25 431.25M809.26 424.39L806.25 431.25L805.24 433.21L804.24 434.19L803.23 434.68L802.73 434.68M821.31 422.92L822.31 422.43L823.82 420.96L823.82 431.25M830.34 423.41L830.34 422.92L830.84 421.94L831.35 421.45L832.35 420.96L834.36 420.96L835.36 421.45L835.86 421.94L836.37 422.92L836.37 423.9L835.86 424.88L834.86 426.35L829.84 431.25L836.87 431.25M842.39 420.96L840.88 421.45L840.38 422.43L840.38 423.41L840.88 424.39L841.89 424.88L843.9 425.37L845.4 425.86L846.41 426.84L846.91 427.82L846.91 429.29L846.41 430.27L845.9 430.76L844.4 431.25L842.39 431.25L840.88 430.76L840.38 430.27L839.88 429.29L839.88 427.82L840.38 426.84L841.39 425.86L842.89 425.37L844.9 424.88L845.9 424.39L846.41 423.41L846.41 422.43L845.9 421.45L844.4 420.96L842.39 420.96M851.43 422.92L852.43 422.43L853.94 420.96L853.94 431.25" stroke="#000" stroke-width="2.5"/>
<path d="M784.16 440.11L784.16 450.4M784.16 440.11L790.68 440.11M784.16 445.01L788.17 445.01M784.16 450.4L790.68 450.4M793.7 443.54L793.7 453.83M793.7 445.01L794.7 444.03L795.7 443.54L797.21 443.54L798.21 444.03L799.22 445.01L799.72 446.48L799.72 447.46L799.22 448.93L798.21 449.91L797.21 450.4L795.7 450.4L794.7 449.91L793.7 448.93M805.24 443.54L804.24 444.03L803.23 445.01L802.73 446.48L802.73 447.46L803.23 448.93L804.24 449.91L805.24 450.4L806.75 450.4L807.75 449.91L808.76 448.93L809.26 447.46L809.26 446.48L808.76 445.01L807.75 444.03L806.75 443.54L805.24 443.54M818.29 445.01L817.29 444.03L816.29 443.54L814.78 443.54L813.78 444.03L812.77 445.01L812.27 446.48L812.27 447.46L812.77 448.93L813.78 449.91L814.78 450.4L816.29 450.4L817.29 449.91L818.29 448.93M821.81 440.11L821.81 450.4M821.81 445.5L823.31 444.03L824.32 443.54L825.82 443.54L826.83 444.03L827.33 445.5L827.33 450.4M839.38 442.56L839.38 442.07L839.88 441.09L840.38 440.6L841.39 440.11L843.39 440.11L844.4 440.6L844.9 441.09L845.4 442.07L845.4 443.05L844.9 444.03L843.9 445.5L838.88 450.4L845.9 450.4M853.94 440.11L848.92 446.97L856.45 446.97M853.94 440.11L853.94 450.4" stroke="#00f" stroke-width="2.5"/>
<path d="M806.16 565.8L804.88 566.4L803.6 567.6L802.96 568.8L802.32 570.6L802.32 572.4L802.96 573.6L804.24 574.2L805.52 574.2L806.8 573.6L808.72 571.8L810 570L811.28 567.6L811.92 565.8M806.16 565.8L807.44 565.8L808.08 566.4L808.72 567.6L810 572.4L810.64 573.6L811.28 574.2L811.92 574.2M826.01 567.12L835.35 567.12M826.01 571.44L835.35 571.44M841.65 568.8L851.19 568.8M859.54 561.6L857.82 562.2L856.67 564L856.1 567L856.1 568.8L856.67 571.8L857.82 573.6L859.54 574.2L860.7 574.2L862.42 573.6L863.57 571.8L864.14 568.8L864.14 567L863.57 564L862.42 562.2L860.7 561.6L859.54 561.6M869.72 573.78L869.2 574.32L869.72 574.86L870.24 574.32L869.72 573.78M875.87 564.6L875.87 564L876.44 562.8L877.02 562.2L878.17 561.6L880.47 561.6L881.62 562.2L882.19 562.8L882.77 564L882.77 565.2L882.19 566.4L881.04 568.2L875.29 574.2L883.34 574.2M888.67 564.6L888.67 564L889.24 562.8L889.82 562.2L890.97 561.6L893.27 561.6L894.42 562.2L894.99 562.8L895.57 564L895.57 565.2L894.99 566.4L893.84 568.2L888.09 574.2L896.14 574.2M906.97 561.6L906.97 571.08M902.37 566.4L911.57 566.4M902.37 574.2L911.57 574.2M920.47 561.6L918.75 562.2L917.6 564L917.02 567L917.02 568.8L917.6 571.8L918.75 573.6L920.47 574.2L921.62 574.2L923.35 573.6L924.5 571.8L925.07 568.8L925.07 567L924.5 564L923.35 562.2L921.62 561.6L920.47 561.6M930.65 573.78L930.13 574.32L930.65 574.86L931.17 574.32L930.65 573.78M944.27 561.6L938.52 574.2M936.22 561.6L944.27 561.6M957.07 561.6L951.32 574.2M949.02 561.6L957.07 561.6" stroke="#000" stroke-width="2.4"/>
<path d="M815.27 571.79L815.27 578.3M820.73 571.79L820.73 578.3M815.27 574.89L820.73 574.89" stroke="#000" stroke-width="2.4"/>
<path d="M769.68 604.06L770.59 603.63L771.96 602.35L771.96 611.3" stroke="#000" stroke-width="2.2"/>
<path d="M863.55 604.06L864.46 603.63L865.82 602.35L865.82 611.3M874.33 602.35L872.97 602.78L872.06 604.06L871.6 606.19L871.6 607.47L872.06 609.6L872.97 610.87L874.33 611.3L875.24 611.3L876.61 610.87L877.52 609.6L877.97 607.47L877.97 606.19L877.52 604.06L876.61 602.78L875.24 602.35L874.33 602.35" stroke="#000" stroke-width="2.2"/>
<path d="M957.41 604.06L958.32 603.63L959.69 602.35L959.69 611.3M968.19 602.35L966.83 602.78L965.92 604.06L965.47 606.19L965.47 607.47L965.92 609.6L966.83 610.87L968.19 611.3L969.11 611.3L970.47 610.87L971.38 609.6L971.83 607.47L971.83 606.19L971.38 604.06L970.47 602.78L969.11 602.35L968.19 602.35M977.61 602.35L976.25 602.78L975.34 604.06L974.88 606.19L974.88 607.47L975.34 609.6L976.25 610.87L977.61 611.3L978.52 611.3L979.89 610.87L980.8 609.6L981.25 607.47L981.25 606.19L980.8 604.06L979.89 602.78L978.52 602.35L977.61 602.35" stroke="#000" stroke-width="2.2"/>
<path d="M472.88 620.25L472.88 629.2M472.88 620.25L478.79 620.25M472.88 624.51L476.52 624.51M481.31 623.24L481.31 629.2M481.31 625.79L481.76 624.51L482.67 623.66L483.58 623.24L484.95 623.24M487.01 625.79L492.47 625.79L492.47 624.94L492.01 624.09L491.56 623.66L490.65 623.24L489.28 623.24L488.37 623.66L487.46 624.51L487.01 625.79L487.01 626.64L487.46 627.92L488.37 628.77L489.28 629.2L490.65 629.2L491.56 628.77L492.47 627.92M500.95 623.24L500.95 632.18M500.95 624.51L500.04 623.66L499.13 623.24L497.76 623.24L496.85 623.66L495.94 624.51L495.49 625.79L495.49 626.64L495.94 627.92L496.85 628.77L497.76 629.2L499.13 629.2L500.04 628.77L500.95 627.92M504.89 623.24L504.89 627.5L505.35 628.77L506.26 629.2L507.62 629.2L508.53 628.77L509.9 627.5M509.9 623.24L509.9 629.2M513.38 625.79L518.85 625.79L518.85 624.94L518.39 624.09L517.94 623.66L517.02 623.24L515.66 623.24L514.75 623.66L513.84 624.51L513.38 625.79L513.38 626.64L513.84 627.92L514.75 628.77L515.66 629.2L517.02 629.2L517.94 628.77L518.85 627.92M522.32 623.24L522.32 629.2M522.32 624.94L523.68 623.66L524.59 623.24L525.96 623.24L526.87 623.66L527.32 624.94L527.32 629.2M536.27 624.51L535.36 623.66L534.45 623.24L533.09 623.24L532.18 623.66L531.27 624.51L530.81 625.79L530.81 626.64L531.27 627.92L532.18 628.77L533.09 629.2L534.45 629.2L535.36 628.77L536.27 627.92M538.82 623.24L541.55 629.2M544.28 623.24L541.55 629.2L540.64 630.9L539.73 631.76L538.82 632.18L538.36 632.18M557.97 618.55L557.06 619.4L556.15 620.68L555.24 622.38L554.78 624.51L554.78 626.22L555.24 628.35L556.15 630.05L557.06 631.33L557.97 632.18M567.8 622.38L567.34 621.53L566.43 620.68L565.52 620.25L563.7 620.25L562.79 620.68L561.88 621.53L561.43 622.38L560.97 623.66L560.97 625.79L561.43 627.07L561.88 627.92L562.79 628.77L563.7 629.2L565.52 629.2L566.43 628.77L567.34 627.92L567.8 627.07L567.8 625.79M565.52 625.79L567.8 625.79M571.33 620.25L571.33 629.2M577.7 620.25L577.7 629.2M571.33 624.51L577.7 624.51M586.2 623.24L581.19 629.2M581.19 623.24L586.2 623.24M581.19 629.2L586.2 629.2M589.18 618.55L590.09 619.4L591 620.68L591.91 622.38L592.37 624.51L592.37 626.22L591.91 628.35L591 630.05L590.09 631.33L589.18 632.18" stroke="#000" stroke-width="2.2"/>
<path d="M-55.19 286.85L-55.19 295.8M-55.19 286.85L-49.28 286.85M-55.19 291.11L-51.55 291.11M-46.81 286.85L-46.81 295.8M-42.96 289.84L-42.96 294.1L-42.51 295.37L-41.6 295.8L-40.23 295.8L-39.32 295.37L-37.96 294.1M-37.96 289.84L-37.96 295.8M-34.48 289.84L-29.48 295.8M-29.48 289.84L-34.48 295.8M-18.44 286.85L-18.44 295.8M-18.44 286.85L-15.25 286.85L-13.89 287.28L-12.98 288.13L-12.52 288.98L-12.07 290.26L-12.07 292.39L-12.52 293.67L-12.98 294.52L-13.89 295.37L-15.25 295.8L-18.44 295.8M-9.03 292.39L-3.57 292.39L-3.57 291.54L-4.03 290.69L-4.48 290.26L-5.39 289.84L-6.76 289.84L-7.67 290.26L-8.58 291.11L-9.03 292.39L-9.03 293.24L-8.58 294.52L-7.67 295.37L-6.76 295.8L-5.39 295.8L-4.48 295.37L-3.57 294.52M-0.1 289.84L-0.1 295.8M-0.1 291.54L1.26 290.26L2.17 289.84L3.54 289.84L4.45 290.26L4.9 291.54L4.9 295.8M13.38 291.11L12.93 290.26L11.56 289.84L10.2 289.84L8.83 290.26L8.38 291.11L8.83 291.97L9.74 292.39L12.02 292.82L12.93 293.24L13.38 294.1L13.38 294.52L12.93 295.37L11.56 295.8L10.2 295.8L8.83 295.37L8.38 294.52M16.32 286.85L16.77 287.28L17.23 286.85L16.77 286.43L16.32 286.85M16.77 289.84L16.77 295.8M21.01 286.85L21.01 294.1L21.47 295.37L22.38 295.8L23.29 295.8M19.65 289.84L22.83 289.84M25.35 289.84L28.08 295.8M30.81 289.84L28.08 295.8L27.17 297.5L26.26 298.36L25.35 298.78L24.89 298.78M44.5 285.15L43.59 286L42.68 287.28L41.77 288.98L41.31 291.11L41.31 292.82L41.77 294.95L42.68 296.65L43.59 297.93L44.5 298.78M48.04 289.84L48.04 295.8M48.04 291.54L49.4 290.26L50.31 289.84L51.68 289.84L52.59 290.26L53.04 291.54L53.04 295.8M53.04 291.54L54.41 290.26L55.32 289.84L56.68 289.84L57.59 290.26L58.05 291.54L58.05 295.8M65.69 286.85L65.69 293.67L65.24 294.95L64.78 295.37L63.87 295.8L62.96 295.8L62.05 295.37L61.6 294.95L61.14 293.67L61.14 292.82M68.68 289.84L71.41 295.8M74.14 289.84L71.41 295.8L70.5 297.5L69.59 298.36L68.68 298.78L68.23 298.78M76.66 285.15L77.57 286L78.48 287.28L79.39 288.98L79.84 291.11L79.84 292.82L79.39 294.95L78.48 296.65L77.57 297.93L76.66 298.78" stroke="#000" stroke-width="2.2" transform="rotate(-90 12.3 295.8)"/>
</g>
<g><text x="83.7" y="19.3" font-size="14.37" textLength="66.26">Day 198</text>
<text x="83.7" y="38.45" font-size="14.37" textLength="75.3">Epoch 13</text>
<text x="101.95" y="162.5" font-size="17.6" textLength="141.42">α<tspan font-size="9.68" dy="5.6">L</tspan><tspan dy="-5.6">=1.48±0.02</tspan></text>
<text x="25.66" y="22" font-size="12.49" textLength="42.39">10.00</text>
<text x="35.08" y="75.7" font-size="12.49" textLength="32.97">1.00</text>
<text x="35.08" y="129.4" font-size="12.49" textLength="32.97">0.10</text>
<text x="35.08" y="177.5" font-size="12.49" textLength="32.97">0.01</text>
<text x="316.55" y="19.3" font-size="14.37" textLength="66.26">Day 325</text>
<text x="316.55" y="38.45" font-size="14.37" textLength="75.3">Epoch 14</text>
<text x="334.8" y="140.7" font-size="17.6" textLength="141.42">α<tspan font-size="9.68" dy="5.6">L</tspan><tspan dy="-5.6">=1.44±0.05</tspan></text>
<text x="334.8" y="162.5" font-size="17.6" textLength="141.06">α<tspan font-size="9.68" dy="5.6">T</tspan><tspan dy="-5.6">=0.64±0.05</tspan></text>
<text x="549.3" y="19.3" font-size="14.37" textLength="66.26">Day 350</text>
<text x="549.3" y="38.45" font-size="14.37" textLength="75.3">Epoch 15</text>
<text x="567.55" y="140.7" font-size="17.6" textLength="141.42">α<tspan font-size="9.68" dy="5.6">L</tspan><tspan dy="-5.6">=1.54±0.06</tspan></text>
<text x="567.55" y="162.5" font-size="17.6" textLength="141.06">α<tspan font-size="9.68" dy="5.6">T</tspan><tspan dy="-5.6">=0.52±0.03</tspan></text>
<text x="782.15" y="19.3" font-size="14.37" textLength="66.26">Day 426</text>
<text x="782.15" y="38.45" font-size="14.37" textLength="75.3">Epoch 16</text>
<text x="800.4" y="118.3" font-size="17.6" textLength="141.42">α<tspan font-size="9.68" dy="5.6">L</tspan><tspan dy="-5.6">=1.23±0.19</tspan></text>
<text x="800.4" y="140.7" font-size="17.6" textLength="141.06">α<tspan font-size="9.68" dy="5.6">T</tspan><tspan dy="-5.6">=0.41±0.04</tspan></text>
<text x="800.4" y="162.5" font-size="17.6" textLength="143.82">α<tspan font-size="9.68" dy="5.6">H</tspan><tspan dy="-5.6">=0.03±0.08</tspan></text>
<text x="83.7" y="225.1" font-size="14.37" textLength="66.26">Day 490</text>
<text x="83.7" y="244.25" font-size="14.37" textLength="75.3">Epoch 17</text>
<text x="101.95" y="324.45" font-size="17.6" textLength="141.42">α<tspan font-size="9.68" dy="5.6">L</tspan><tspan dy="-5.6">=1.37±0.15</tspan></text>
<text x="101.95" y="346.85" font-size="17.6" textLength="141.06">α<tspan font-size="9.68" dy="5.6">T</tspan><tspan dy="-5.6">=0.24±0.04</tspan></text>
<text x="101.95" y="368.65" font-size="17.6" textLength="159.05">α<tspan font-size="9.68" dy="5.6">H</tspan><tspan dy="-5.6">=−0.64±0.23</tspan></text>
<text x="25.66" y="227.95" font-size="12.49" textLength="42.39">10.00</text>
<text x="35.08" y="281.65" font-size="12.49" textLength="32.97">1.00</text>
<text x="35.08" y="335.35" font-size="12.49" textLength="32.97">0.10</text>
<text x="35.08" y="383.7" font-size="12.49" textLength="32.97">0.01</text>
<text x="316.55" y="225.1" font-size="14.37" textLength="66.26">Day 587</text>
<text x="316.55" y="244.25" font-size="14.37" textLength="75.3">Epoch 18</text>
<text x="334.8" y="324.45" font-size="17.6" textLength="141.42">α<tspan font-size="9.68" dy="5.6">L</tspan><tspan dy="-5.6">=1.26±0.10</tspan></text>
<text x="334.8" y="346.85" font-size="17.6" textLength="141.06">α<tspan font-size="9.68" dy="5.6">T</tspan><tspan dy="-5.6">=0.30±0.05</tspan></text>
<text x="334.8" y="368.65" font-size="17.6" textLength="159.05">α<tspan font-size="9.68" dy="5.6">H</tspan><tspan dy="-5.6">=−0.08±0.19</tspan></text>
<text x="549.3" y="225.1" font-size="14.37" textLength="66.26">Day 818</text>
<text x="549.3" y="244.25" font-size="14.37" textLength="75.3">Epoch 19</text>
<text x="567.55" y="368.65" font-size="17.6" textLength="159.05">α<tspan font-size="9.68" dy="5.6">H</tspan><tspan dy="-5.6">=−0.22±0.08</tspan></text>
<text x="782.15" y="225.1" font-size="14.37" textLength="66.26">Day 833</text>
<text x="782.15" y="244.25" font-size="14.37" textLength="75.3">Epoch 20</text>
<text x="800.4" y="368.65" font-size="17.6" textLength="159.05">α<tspan font-size="9.68" dy="5.6">H</tspan><tspan dy="-5.6">=−0.47±1.34</tspan></text>
<text x="83.7" y="431.25" font-size="14.37" textLength="66.26">Day 928</text>
<text x="83.7" y="450.4" font-size="14.37" textLength="75.3">Epoch 21</text>
<text x="101.95" y="574.2" font-size="17.6" textLength="159.05">α<tspan font-size="9.68" dy="5.6">H</tspan><tspan dy="-5.6">=−0.19±0.05</tspan></text>
<text x="25.66" y="433.85" font-size="12.49" textLength="42.39">10.00</text>
<text x="35.08" y="487.55" font-size="12.49" textLength="32.97">1.00</text>
<text x="35.08" y="541.25" font-size="12.49" textLength="32.97">0.10</text>
<text x="35.08" y="589.7" font-size="12.49" textLength="32.97">0.01</text>
<text x="68.34" y="611.3" font-size="12.49" textLength="9.42">1</text>
<text x="162.01" y="611.3" font-size="12.49" textLength="18.84">10</text>
<text x="255.67" y="611.3" font-size="12.49" textLength="28.26">100</text>
<text x="316.55" y="431.25" font-size="14.37" textLength="76.3">Day 1084</text>
<text x="316.55" y="450.4" font-size="14.37" textLength="75.3">Epoch 22</text>
<text x="334.8" y="574.2" font-size="17.6" textLength="159.05">α<tspan font-size="9.68" dy="5.6">H</tspan><tspan dy="-5.6">=−0.10±0.04</tspan></text>
<text x="301.19" y="611.3" font-size="12.49" textLength="9.42">1</text>
<text x="394.93" y="611.3" font-size="12.49" textLength="18.84">10</text>
<text x="488.67" y="611.3" font-size="12.49" textLength="28.26">100</text>
<text x="549.3" y="431.25" font-size="14.37" textLength="76.3">Day 1176</text>
<text x="549.3" y="450.4" font-size="14.37" textLength="75.3">Epoch 23</text>
<text x="567.55" y="574.2" font-size="17.6" textLength="159.05">α<tspan font-size="9.68" dy="5.6">H</tspan><tspan dy="-5.6">=−0.08±0.03</tspan></text>
<text x="533.94" y="611.3" font-size="12.49" textLength="9.42">1</text>
<text x="627.83" y="611.3" font-size="12.49" textLength="18.84">10</text>
<text x="721.72" y="611.3" font-size="12.49" textLength="28.26">100</text>
<text x="782.15" y="431.25" font-size="14.37" textLength="76.3">Day 1281</text>
<text x="782.15" y="450.4" font-size="14.37" textLength="75.3">Epoch 24</text>
<text x="800.4" y="574.2" font-size="17.6" textLength="159.05">α<tspan font-size="9.68" dy="5.6">H</tspan><tspan dy="-5.6">=−0.22±0.77</tspan></text>
<text x="766.79" y="611.3" font-size="12.49" textLength="9.42">1</text>
<text x="860.66" y="611.3" font-size="12.49" textLength="18.84">10</text>
<text x="954.52" y="611.3" font-size="12.49" textLength="28.26">100</text>
<text x="470.9" y="629.2" font-size="12.49" textLength="123.4">Frequency (GHz)</text>
<text x="-57.17" y="295.8" font-size="12.49" textLength="138.94" transform="rotate(-90 12.3 295.8)">Flux Density (mJy)</text></g>
</svg>
</body></html>
